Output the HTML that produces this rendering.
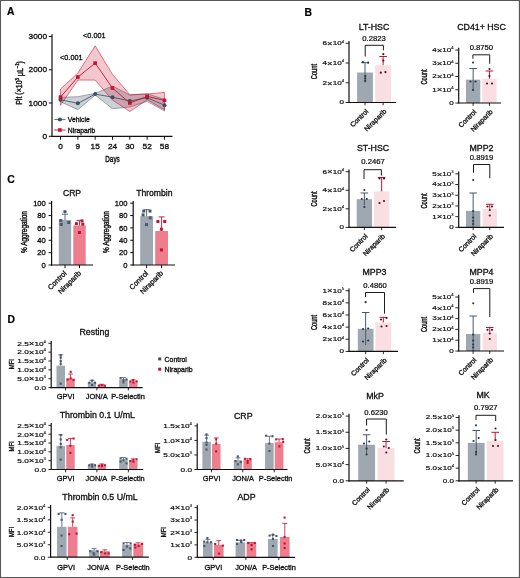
<!DOCTYPE html>
<html lang="en"><head><meta charset="utf-8"><title>Figure</title>
<style>
html,body{margin:0;padding:0;background:#fff;}
body{width:520px;height:578px;overflow:hidden;position:relative;font-family:'Liberation Sans', Arial, Helvetica, sans-serif;}
#fig{position:absolute;left:0;top:0;width:520px;height:578px;}
svg{position:absolute;left:0;top:0;display:block;will-change:transform;}
svg text{font-family:'Liberation Sans', Arial, Helvetica, sans-serif;}
</style></head><body>
<div id="fig"></div>
<svg width="520" height="578" viewBox="0 0 520 578">
<path d="M0 0H520V578H0Z M1.05 0.95V576.9H518.85V0.95Z" fill="#585858" fill-rule="evenodd"/>
<polygon points="60.50,97.38 77.83,96.71 95.16,93.39 112.49,86.07 129.82,95.05 147.15,93.72 164.48,99.37 164.48,111.02 147.15,101.37 129.82,107.03 112.49,108.69 95.16,95.05 77.83,109.69 60.50,101.70" fill="rgba(96,112,128,0.32)" stroke="rgba(80,96,112,0.75)" stroke-width="0.7" stroke-linejoin="round"/>
<polygon points="60.50,89.06 77.83,73.09 95.16,45.81 112.49,74.42 129.82,94.72 147.15,94.05 164.48,92.39 164.48,109.69 147.15,99.71 129.82,111.52 112.49,100.04 95.16,80.08 77.83,80.08 60.50,105.36" fill="rgba(200,20,50,0.24)" stroke="rgba(200,20,50,0.8)" stroke-width="0.7" stroke-linejoin="round"/>
<polyline points="60.50,99.71 77.83,103.37 95.16,94.05 112.49,97.21 129.82,101.04 147.15,97.71 164.48,105.20" fill="none" stroke="#46566a" stroke-width="0.9"/>
<polyline points="60.50,97.05 77.83,77.09 95.16,63.11 112.49,88.06 129.82,103.03 147.15,96.38 164.48,100.37" fill="none" stroke="#c4122f" stroke-width="0.9"/>
<circle cx="60.50" cy="99.71" r="2.0" fill="#3f4d60"/>
<circle cx="77.83" cy="103.37" r="2.0" fill="#3f4d60"/>
<circle cx="95.16" cy="94.05" r="2.0" fill="#3f4d60"/>
<circle cx="112.49" cy="97.21" r="2.0" fill="#3f4d60"/>
<circle cx="129.82" cy="101.04" r="2.0" fill="#3f4d60"/>
<circle cx="147.15" cy="97.71" r="2.0" fill="#3f4d60"/>
<circle cx="164.48" cy="105.20" r="2.0" fill="#3f4d60"/>
<rect x="58.70" y="95.25" width="3.60" height="3.60" fill="#c4122f"/>
<rect x="76.03" y="75.29" width="3.60" height="3.60" fill="#c4122f"/>
<rect x="93.36" y="61.31" width="3.60" height="3.60" fill="#c4122f"/>
<rect x="110.69" y="86.26" width="3.60" height="3.60" fill="#c4122f"/>
<rect x="128.02" y="101.23" width="3.60" height="3.60" fill="#c4122f"/>
<rect x="145.35" y="94.58" width="3.60" height="3.60" fill="#c4122f"/>
<rect x="162.68" y="98.57" width="3.60" height="3.60" fill="#c4122f"/>
<line x1="52.00" y1="34.20" x2="52.00" y2="136.90" stroke="#111" stroke-width="1.2" stroke-linecap="butt"/>
<line x1="51.40" y1="136.30" x2="172.50" y2="136.30" stroke="#111" stroke-width="1.2" stroke-linecap="butt"/>
<line x1="48.80" y1="136.30" x2="52.00" y2="136.30" stroke="#111" stroke-width="1.0" stroke-linecap="butt"/>
<text transform="translate(47.00,136.50) scale(1.05,1)" font-size="7.9" text-anchor="end" dominant-baseline="central" font-weight="normal" fill="#111" stroke="#111" stroke-width="0.32">0</text>
<line x1="48.80" y1="103.03" x2="52.00" y2="103.03" stroke="#111" stroke-width="1.0" stroke-linecap="butt"/>
<text transform="translate(47.00,103.23) scale(1.05,1)" font-size="7.9" text-anchor="end" dominant-baseline="central" font-weight="normal" fill="#111" stroke="#111" stroke-width="0.32">1000</text>
<line x1="48.80" y1="69.77" x2="52.00" y2="69.77" stroke="#111" stroke-width="1.0" stroke-linecap="butt"/>
<text transform="translate(47.00,69.97) scale(1.05,1)" font-size="7.9" text-anchor="end" dominant-baseline="central" font-weight="normal" fill="#111" stroke="#111" stroke-width="0.32">2000</text>
<line x1="48.80" y1="36.50" x2="52.00" y2="36.50" stroke="#111" stroke-width="1.0" stroke-linecap="butt"/>
<text transform="translate(47.00,36.70) scale(1.05,1)" font-size="7.9" text-anchor="end" dominant-baseline="central" font-weight="normal" fill="#111" stroke="#111" stroke-width="0.32">3000</text>
<line x1="60.50" y1="136.30" x2="60.50" y2="139.70" stroke="#111" stroke-width="1.0" stroke-linecap="butt"/>
<text transform="translate(60.50,146.60) scale(1.05,1)" font-size="7.9" text-anchor="middle" dominant-baseline="central" font-weight="normal" fill="#111" stroke="#111" stroke-width="0.32">0</text>
<line x1="77.83" y1="136.30" x2="77.83" y2="139.70" stroke="#111" stroke-width="1.0" stroke-linecap="butt"/>
<text transform="translate(77.83,146.60) scale(1.05,1)" font-size="7.9" text-anchor="middle" dominant-baseline="central" font-weight="normal" fill="#111" stroke="#111" stroke-width="0.32">9</text>
<line x1="95.16" y1="136.30" x2="95.16" y2="139.70" stroke="#111" stroke-width="1.0" stroke-linecap="butt"/>
<text transform="translate(95.16,146.60) scale(1.05,1)" font-size="7.9" text-anchor="middle" dominant-baseline="central" font-weight="normal" fill="#111" stroke="#111" stroke-width="0.32">15</text>
<line x1="112.49" y1="136.30" x2="112.49" y2="139.70" stroke="#111" stroke-width="1.0" stroke-linecap="butt"/>
<text transform="translate(112.49,146.60) scale(1.05,1)" font-size="7.9" text-anchor="middle" dominant-baseline="central" font-weight="normal" fill="#111" stroke="#111" stroke-width="0.32">24</text>
<line x1="129.82" y1="136.30" x2="129.82" y2="139.70" stroke="#111" stroke-width="1.0" stroke-linecap="butt"/>
<text transform="translate(129.82,146.60) scale(1.05,1)" font-size="7.9" text-anchor="middle" dominant-baseline="central" font-weight="normal" fill="#111" stroke="#111" stroke-width="0.32">30</text>
<line x1="147.15" y1="136.30" x2="147.15" y2="139.70" stroke="#111" stroke-width="1.0" stroke-linecap="butt"/>
<text transform="translate(147.15,146.60) scale(1.05,1)" font-size="7.9" text-anchor="middle" dominant-baseline="central" font-weight="normal" fill="#111" stroke="#111" stroke-width="0.32">52</text>
<line x1="164.48" y1="136.30" x2="164.48" y2="139.70" stroke="#111" stroke-width="1.0" stroke-linecap="butt"/>
<text transform="translate(164.48,146.60) scale(1.05,1)" font-size="7.9" text-anchor="middle" dominant-baseline="central" font-weight="normal" fill="#111" stroke="#111" stroke-width="0.32">58</text>
<text transform="translate(112.50,159.30) scale(0.74,1)" font-size="8.6" text-anchor="middle" dominant-baseline="central" font-weight="normal" fill="#111" stroke="#111" stroke-width="0.42">Days</text>
<text transform="translate(19.60,83.00) rotate(-90) scale(0.8,1)" font-size="8.8" text-anchor="middle" dominant-baseline="central" font-weight="normal" fill="#111" stroke="#111" stroke-width="0.42">Plt (×10<tspan font-size="60%" dy="-0.45em">3</tspan><tspan dy="0.27em"> μL</tspan><tspan font-size="60%" dy="-0.45em">–1</tspan><tspan dy="0.27em">)</tspan></text>
<text transform="translate(71.30,57.20)" font-size="7.3" text-anchor="middle" dominant-baseline="central" font-weight="normal" fill="#111" stroke="#111" stroke-width="0.32">&lt;0.001</text>
<text transform="translate(94.30,35.20)" font-size="7.3" text-anchor="middle" dominant-baseline="central" font-weight="normal" fill="#111" stroke="#111" stroke-width="0.32">&lt;0.001</text>
<line x1="54.30" y1="119.40" x2="65.50" y2="119.40" stroke="#46566a" stroke-width="0.9" stroke-linecap="butt"/>
<circle cx="59.90" cy="119.40" r="2.0" fill="#3f4d60"/>
<text transform="translate(67.80,119.50)" font-size="6.8" text-anchor="start" dominant-baseline="central" font-weight="normal" fill="#111" stroke="#111" stroke-width="0.32">Vehicle</text>
<line x1="54.30" y1="130.00" x2="65.50" y2="130.00" stroke="#c4122f" stroke-width="0.9" stroke-linecap="butt"/>
<rect x="58.10" y="128.20" width="3.60" height="3.60" fill="#c4122f"/>
<text transform="translate(67.80,130.10)" font-size="6.8" text-anchor="start" dominant-baseline="central" font-weight="normal" fill="#111" stroke="#111" stroke-width="0.32">Niraparib</text>
<rect x="58.80" y="220.01" width="12.40" height="44.99" fill="#9fa8b0"/>
<rect x="73.30" y="225.45" width="12.40" height="39.55" fill="#ee7d8d"/>
<line x1="65.00" y1="214.20" x2="65.00" y2="220.01" stroke="#465a6c" stroke-width="0.9" stroke-linecap="butt"/>
<line x1="62.00" y1="214.20" x2="68.00" y2="214.20" stroke="#465a6c" stroke-width="0.9" stroke-linecap="butt"/>
<line x1="79.50" y1="220.50" x2="79.50" y2="225.45" stroke="#c4122f" stroke-width="0.9" stroke-linecap="butt"/>
<line x1="76.50" y1="220.50" x2="82.50" y2="220.50" stroke="#c4122f" stroke-width="0.9" stroke-linecap="butt"/>
<rect x="63.50" y="210.20" width="3.00" height="3.00" fill="#465a6c"/>
<rect x="59.30" y="219.00" width="3.00" height="3.00" fill="#465a6c"/>
<rect x="67.20" y="221.00" width="3.00" height="3.00" fill="#465a6c"/>
<rect x="59.70" y="222.90" width="3.00" height="3.00" fill="#465a6c"/>
<rect x="80.50" y="219.40" width="3.00" height="3.00" fill="#c4122f"/>
<rect x="74.90" y="222.10" width="3.00" height="3.00" fill="#c4122f"/>
<rect x="81.30" y="222.70" width="3.00" height="3.00" fill="#c4122f"/>
<rect x="78.00" y="231.00" width="3.00" height="3.00" fill="#c4122f"/>
<line x1="51.60" y1="200.90" x2="51.60" y2="265.60" stroke="#111" stroke-width="1.2" stroke-linecap="butt"/>
<line x1="51.00" y1="265.00" x2="93.00" y2="265.00" stroke="#111" stroke-width="1.2" stroke-linecap="butt"/>
<line x1="48.60" y1="265.00" x2="51.60" y2="265.00" stroke="#111" stroke-width="1.0" stroke-linecap="butt"/>
<text transform="translate(45.80,265.20)" font-size="7.6" text-anchor="end" dominant-baseline="central" font-weight="normal" fill="#111" stroke="#111" stroke-width="0.32">0</text>
<line x1="48.60" y1="252.64" x2="51.60" y2="252.64" stroke="#111" stroke-width="1.0" stroke-linecap="butt"/>
<text transform="translate(45.80,252.84)" font-size="7.6" text-anchor="end" dominant-baseline="central" font-weight="normal" fill="#111" stroke="#111" stroke-width="0.32">20</text>
<line x1="48.60" y1="240.28" x2="51.60" y2="240.28" stroke="#111" stroke-width="1.0" stroke-linecap="butt"/>
<text transform="translate(45.80,240.48)" font-size="7.6" text-anchor="end" dominant-baseline="central" font-weight="normal" fill="#111" stroke="#111" stroke-width="0.32">40</text>
<line x1="48.60" y1="227.92" x2="51.60" y2="227.92" stroke="#111" stroke-width="1.0" stroke-linecap="butt"/>
<text transform="translate(45.80,228.12)" font-size="7.6" text-anchor="end" dominant-baseline="central" font-weight="normal" fill="#111" stroke="#111" stroke-width="0.32">60</text>
<line x1="48.60" y1="215.56" x2="51.60" y2="215.56" stroke="#111" stroke-width="1.0" stroke-linecap="butt"/>
<text transform="translate(45.80,215.76)" font-size="7.6" text-anchor="end" dominant-baseline="central" font-weight="normal" fill="#111" stroke="#111" stroke-width="0.32">80</text>
<line x1="48.60" y1="203.20" x2="51.60" y2="203.20" stroke="#111" stroke-width="1.0" stroke-linecap="butt"/>
<text transform="translate(45.80,203.40)" font-size="7.6" text-anchor="end" dominant-baseline="central" font-weight="normal" fill="#111" stroke="#111" stroke-width="0.32">100</text>
<line x1="65.00" y1="265.00" x2="65.00" y2="268.20" stroke="#111" stroke-width="1.0" stroke-linecap="butt"/>
<line x1="79.50" y1="265.00" x2="79.50" y2="268.20" stroke="#111" stroke-width="1.0" stroke-linecap="butt"/>
<text transform="translate(72.00,193.00)" font-size="8.6" text-anchor="middle" dominant-baseline="central" font-weight="normal" fill="#111" stroke="#111" stroke-width="0.32">CRP</text>
<text transform="translate(24.50,232.00) rotate(-90) scale(0.75,1)" font-size="8.6" text-anchor="middle" dominant-baseline="central" font-weight="normal" fill="#111" stroke="#111" stroke-width="0.42">% Aggregation</text>
<text transform="translate(65.30,272.00) rotate(-45)" font-size="7.2" text-anchor="end" dominant-baseline="central" font-weight="normal" fill="#111" stroke="#111" stroke-width="0.32">Control</text>
<text transform="translate(79.80,272.00) rotate(-45)" font-size="7.2" text-anchor="end" dominant-baseline="central" font-weight="normal" fill="#111" stroke="#111" stroke-width="0.32">Niraparib</text>
<rect x="140.20" y="216.18" width="12.80" height="48.82" fill="#9fa8b0"/>
<rect x="155.20" y="231.01" width="12.80" height="33.99" fill="#ee7d8d"/>
<line x1="146.60" y1="209.70" x2="146.60" y2="216.18" stroke="#465a6c" stroke-width="0.9" stroke-linecap="butt"/>
<line x1="143.60" y1="209.70" x2="149.60" y2="209.70" stroke="#465a6c" stroke-width="0.9" stroke-linecap="butt"/>
<line x1="161.60" y1="216.90" x2="161.60" y2="231.01" stroke="#c4122f" stroke-width="0.9" stroke-linecap="butt"/>
<line x1="158.60" y1="216.90" x2="164.60" y2="216.90" stroke="#c4122f" stroke-width="0.9" stroke-linecap="butt"/>
<rect x="142.30" y="209.60" width="3.00" height="3.00" fill="#465a6c"/>
<rect x="148.50" y="209.60" width="3.00" height="3.00" fill="#465a6c"/>
<rect x="148.70" y="216.30" width="3.00" height="3.00" fill="#465a6c"/>
<rect x="141.60" y="213.40" width="3.00" height="3.00" fill="#465a6c"/>
<rect x="145.00" y="223.10" width="3.00" height="3.00" fill="#465a6c"/>
<rect x="156.40" y="220.00" width="3.00" height="3.00" fill="#c4122f"/>
<rect x="163.20" y="220.00" width="3.00" height="3.00" fill="#c4122f"/>
<rect x="159.90" y="227.70" width="3.00" height="3.00" fill="#c4122f"/>
<rect x="159.90" y="248.40" width="3.00" height="3.00" fill="#c4122f"/>
<line x1="133.20" y1="200.90" x2="133.20" y2="265.60" stroke="#111" stroke-width="1.2" stroke-linecap="butt"/>
<line x1="132.60" y1="265.00" x2="175.00" y2="265.00" stroke="#111" stroke-width="1.2" stroke-linecap="butt"/>
<line x1="130.20" y1="265.00" x2="133.20" y2="265.00" stroke="#111" stroke-width="1.0" stroke-linecap="butt"/>
<text transform="translate(127.40,265.20)" font-size="7.6" text-anchor="end" dominant-baseline="central" font-weight="normal" fill="#111" stroke="#111" stroke-width="0.32">0</text>
<line x1="130.20" y1="252.64" x2="133.20" y2="252.64" stroke="#111" stroke-width="1.0" stroke-linecap="butt"/>
<text transform="translate(127.40,252.84)" font-size="7.6" text-anchor="end" dominant-baseline="central" font-weight="normal" fill="#111" stroke="#111" stroke-width="0.32">20</text>
<line x1="130.20" y1="240.28" x2="133.20" y2="240.28" stroke="#111" stroke-width="1.0" stroke-linecap="butt"/>
<text transform="translate(127.40,240.48)" font-size="7.6" text-anchor="end" dominant-baseline="central" font-weight="normal" fill="#111" stroke="#111" stroke-width="0.32">40</text>
<line x1="130.20" y1="227.92" x2="133.20" y2="227.92" stroke="#111" stroke-width="1.0" stroke-linecap="butt"/>
<text transform="translate(127.40,228.12)" font-size="7.6" text-anchor="end" dominant-baseline="central" font-weight="normal" fill="#111" stroke="#111" stroke-width="0.32">60</text>
<line x1="130.20" y1="215.56" x2="133.20" y2="215.56" stroke="#111" stroke-width="1.0" stroke-linecap="butt"/>
<text transform="translate(127.40,215.76)" font-size="7.6" text-anchor="end" dominant-baseline="central" font-weight="normal" fill="#111" stroke="#111" stroke-width="0.32">80</text>
<line x1="130.20" y1="203.20" x2="133.20" y2="203.20" stroke="#111" stroke-width="1.0" stroke-linecap="butt"/>
<text transform="translate(127.40,203.40)" font-size="7.6" text-anchor="end" dominant-baseline="central" font-weight="normal" fill="#111" stroke="#111" stroke-width="0.32">100</text>
<line x1="146.60" y1="265.00" x2="146.60" y2="268.20" stroke="#111" stroke-width="1.0" stroke-linecap="butt"/>
<line x1="161.60" y1="265.00" x2="161.60" y2="268.20" stroke="#111" stroke-width="1.0" stroke-linecap="butt"/>
<text transform="translate(154.30,193.00)" font-size="8.6" text-anchor="middle" dominant-baseline="central" font-weight="normal" fill="#111" stroke="#111" stroke-width="0.32">Thrombin</text>
<text transform="translate(106.30,232.00) rotate(-90) scale(0.75,1)" font-size="8.6" text-anchor="middle" dominant-baseline="central" font-weight="normal" fill="#111" stroke="#111" stroke-width="0.42">% Aggregation</text>
<text transform="translate(146.90,272.00) rotate(-45)" font-size="7.2" text-anchor="end" dominant-baseline="central" font-weight="normal" fill="#111" stroke="#111" stroke-width="0.32">Control</text>
<text transform="translate(161.90,272.00) rotate(-45)" font-size="7.2" text-anchor="end" dominant-baseline="central" font-weight="normal" fill="#111" stroke="#111" stroke-width="0.32">Niraparib</text>
<rect x="357.10" y="72.51" width="15.80" height="29.99" fill="#9fa8b0"/>
<rect x="375.20" y="65.20" width="15.80" height="37.30" fill="#f9dfe2"/>
<line x1="365.00" y1="62.70" x2="365.00" y2="82.50" stroke="#465a6c" stroke-width="1.0" stroke-linecap="butt"/>
<line x1="361.20" y1="62.70" x2="368.80" y2="62.70" stroke="#465a6c" stroke-width="1.0" stroke-linecap="butt"/>
<line x1="383.10" y1="56.50" x2="383.10" y2="65.20" stroke="#c4122f" stroke-width="1.0" stroke-linecap="butt"/>
<line x1="379.30" y1="56.50" x2="386.90" y2="56.50" stroke="#c4122f" stroke-width="1.0" stroke-linecap="butt"/>
<circle cx="362.90" cy="62.10" r="1.1" fill="#2a3848"/>
<circle cx="368.20" cy="62.70" r="1.1" fill="#2a3848"/>
<circle cx="365.30" cy="76.20" r="1.1" fill="#2a3848"/>
<circle cx="365.30" cy="78.50" r="1.1" fill="#2a3848"/>
<circle cx="365.30" cy="80.80" r="1.1" fill="#2a3848"/>
<circle cx="383.30" cy="54.20" r="1.1" fill="#5e0f1f"/>
<circle cx="383.30" cy="60.60" r="1.1" fill="#5e0f1f"/>
<circle cx="380.80" cy="72.70" r="1.1" fill="#5e0f1f"/>
<circle cx="385.40" cy="72.10" r="1.1" fill="#5e0f1f"/>
<line x1="349.00" y1="41.00" x2="349.00" y2="103.10" stroke="#111" stroke-width="1.2" stroke-linecap="butt"/>
<line x1="348.40" y1="102.50" x2="396.00" y2="102.50" stroke="#111" stroke-width="1.2" stroke-linecap="butt"/>
<line x1="345.60" y1="102.50" x2="349.00" y2="102.50" stroke="#111" stroke-width="0.9" stroke-linecap="butt"/>
<text transform="translate(344.00,102.70) scale(1.33,1)" font-size="6.1" text-anchor="end" dominant-baseline="central" font-weight="normal" fill="#111" stroke="#111" stroke-width="0.2">0</text>
<line x1="345.60" y1="82.77" x2="349.00" y2="82.77" stroke="#111" stroke-width="0.9" stroke-linecap="butt"/>
<text transform="translate(344.00,82.97) scale(1.33,1)" font-size="6.1" text-anchor="end" dominant-baseline="central" font-weight="normal" fill="#111" stroke="#111" stroke-width="0.2">2<tspan font-size="118%">×</tspan>10<tspan font-size="52%" dy="-0.55em" stroke-width="0.1">4</tspan></text>
<line x1="345.60" y1="63.03" x2="349.00" y2="63.03" stroke="#111" stroke-width="0.9" stroke-linecap="butt"/>
<text transform="translate(344.00,63.23) scale(1.33,1)" font-size="6.1" text-anchor="end" dominant-baseline="central" font-weight="normal" fill="#111" stroke="#111" stroke-width="0.2">4<tspan font-size="118%">×</tspan>10<tspan font-size="52%" dy="-0.55em" stroke-width="0.1">4</tspan></text>
<line x1="345.60" y1="43.30" x2="349.00" y2="43.30" stroke="#111" stroke-width="0.9" stroke-linecap="butt"/>
<text transform="translate(344.00,43.50) scale(1.33,1)" font-size="6.1" text-anchor="end" dominant-baseline="central" font-weight="normal" fill="#111" stroke="#111" stroke-width="0.2">6<tspan font-size="118%">×</tspan>10<tspan font-size="52%" dy="-0.55em" stroke-width="0.1">4</tspan></text>
<line x1="365.00" y1="102.50" x2="365.00" y2="105.30" stroke="#111" stroke-width="0.9" stroke-linecap="butt"/>
<line x1="383.10" y1="102.50" x2="383.10" y2="105.30" stroke="#111" stroke-width="0.9" stroke-linecap="butt"/>
<text transform="translate(374.00,27.40)" font-size="8.8" text-anchor="middle" dominant-baseline="central" font-weight="normal" fill="#111" stroke="#111" stroke-width="0.32">LT-HSC</text>
<text transform="translate(374.00,38.80) scale(1.18,1)" font-size="6.5" text-anchor="middle" dominant-baseline="central" font-weight="normal" fill="#111" stroke="#111" stroke-width="0.22">0.2823</text>
<polyline points="365.20,56.50 365.20,45.30 383.40,45.30 383.40,50.40" fill="none" stroke="#1c1c1c" stroke-width="1.0"/>
<text transform="translate(314.40,71.60) rotate(-90) scale(0.68,1)" font-size="8.4" text-anchor="middle" dominant-baseline="central" font-weight="normal" fill="#111" stroke="#111" stroke-width="0.42">Count</text>
<text transform="translate(367.00,110.10) rotate(-45)" font-size="6.9" text-anchor="end" dominant-baseline="central" font-weight="normal" fill="#111" stroke="#111" stroke-width="0.32">Control</text>
<text transform="translate(385.10,110.10) rotate(-45)" font-size="6.9" text-anchor="end" dominant-baseline="central" font-weight="normal" fill="#111" stroke="#111" stroke-width="0.32">Niraparib</text>
<rect x="466.00" y="79.68" width="14.30" height="23.32" fill="#9fa8b0"/>
<rect x="482.30" y="78.75" width="14.30" height="24.25" fill="#f9dfe2"/>
<line x1="473.15" y1="68.50" x2="473.15" y2="91.00" stroke="#465a6c" stroke-width="1.0" stroke-linecap="butt"/>
<line x1="469.35" y1="68.50" x2="476.95" y2="68.50" stroke="#465a6c" stroke-width="1.0" stroke-linecap="butt"/>
<line x1="489.45" y1="71.00" x2="489.45" y2="78.75" stroke="#c4122f" stroke-width="1.0" stroke-linecap="butt"/>
<line x1="485.65" y1="71.00" x2="493.25" y2="71.00" stroke="#c4122f" stroke-width="1.0" stroke-linecap="butt"/>
<circle cx="473.00" cy="62.50" r="1.1" fill="#2a3848"/>
<circle cx="470.50" cy="81.50" r="1.1" fill="#2a3848"/>
<circle cx="475.50" cy="81.50" r="1.1" fill="#2a3848"/>
<circle cx="473.00" cy="90.00" r="1.1" fill="#2a3848"/>
<circle cx="489.50" cy="69.00" r="1.1" fill="#5e0f1f"/>
<circle cx="489.50" cy="76.00" r="1.1" fill="#5e0f1f"/>
<circle cx="487.00" cy="83.50" r="1.1" fill="#5e0f1f"/>
<circle cx="492.00" cy="83.50" r="1.1" fill="#5e0f1f"/>
<line x1="458.70" y1="47.70" x2="458.70" y2="103.60" stroke="#111" stroke-width="1.2" stroke-linecap="butt"/>
<line x1="458.10" y1="103.00" x2="501.00" y2="103.00" stroke="#111" stroke-width="1.2" stroke-linecap="butt"/>
<line x1="455.30" y1="103.00" x2="458.70" y2="103.00" stroke="#111" stroke-width="0.9" stroke-linecap="butt"/>
<text transform="translate(453.70,103.20) scale(1.33,1)" font-size="6.1" text-anchor="end" dominant-baseline="central" font-weight="normal" fill="#111" stroke="#111" stroke-width="0.2">0</text>
<line x1="455.30" y1="89.75" x2="458.70" y2="89.75" stroke="#111" stroke-width="0.9" stroke-linecap="butt"/>
<text transform="translate(453.70,89.95) scale(1.33,1)" font-size="6.1" text-anchor="end" dominant-baseline="central" font-weight="normal" fill="#111" stroke="#111" stroke-width="0.2">1<tspan font-size="118%">×</tspan>10<tspan font-size="52%" dy="-0.55em" stroke-width="0.1">4</tspan></text>
<line x1="455.30" y1="76.50" x2="458.70" y2="76.50" stroke="#111" stroke-width="0.9" stroke-linecap="butt"/>
<text transform="translate(453.70,76.70) scale(1.33,1)" font-size="6.1" text-anchor="end" dominant-baseline="central" font-weight="normal" fill="#111" stroke="#111" stroke-width="0.2">2<tspan font-size="118%">×</tspan>10<tspan font-size="52%" dy="-0.55em" stroke-width="0.1">4</tspan></text>
<line x1="455.30" y1="63.25" x2="458.70" y2="63.25" stroke="#111" stroke-width="0.9" stroke-linecap="butt"/>
<text transform="translate(453.70,63.45) scale(1.33,1)" font-size="6.1" text-anchor="end" dominant-baseline="central" font-weight="normal" fill="#111" stroke="#111" stroke-width="0.2">3<tspan font-size="118%">×</tspan>10<tspan font-size="52%" dy="-0.55em" stroke-width="0.1">4</tspan></text>
<line x1="455.30" y1="50.00" x2="458.70" y2="50.00" stroke="#111" stroke-width="0.9" stroke-linecap="butt"/>
<text transform="translate(453.70,50.20) scale(1.33,1)" font-size="6.1" text-anchor="end" dominant-baseline="central" font-weight="normal" fill="#111" stroke="#111" stroke-width="0.2">4<tspan font-size="118%">×</tspan>10<tspan font-size="52%" dy="-0.55em" stroke-width="0.1">4</tspan></text>
<line x1="473.15" y1="103.00" x2="473.15" y2="105.80" stroke="#111" stroke-width="0.9" stroke-linecap="butt"/>
<line x1="489.45" y1="103.00" x2="489.45" y2="105.80" stroke="#111" stroke-width="0.9" stroke-linecap="butt"/>
<text transform="translate(481.50,26.80)" font-size="8.8" text-anchor="middle" dominant-baseline="central" font-weight="normal" fill="#111" stroke="#111" stroke-width="0.32">CD41+ HSC</text>
<text transform="translate(481.40,48.50) scale(1.18,1)" font-size="6.5" text-anchor="middle" dominant-baseline="central" font-weight="normal" fill="#111" stroke="#111" stroke-width="0.22">0.8750</text>
<polyline points="472.90,58.80 472.90,54.80 489.70,54.80 489.70,63.80" fill="none" stroke="#1c1c1c" stroke-width="1.0"/>
<text transform="translate(424.40,77.00) rotate(-90) scale(0.68,1)" font-size="8.4" text-anchor="middle" dominant-baseline="central" font-weight="normal" fill="#111" stroke="#111" stroke-width="0.42">Count</text>
<text transform="translate(475.15,110.60) rotate(-45)" font-size="6.9" text-anchor="end" dominant-baseline="central" font-weight="normal" fill="#111" stroke="#111" stroke-width="0.32">Control</text>
<text transform="translate(491.45,110.60) rotate(-45)" font-size="6.9" text-anchor="end" dominant-baseline="central" font-weight="normal" fill="#111" stroke="#111" stroke-width="0.32">Niraparib</text>
<rect x="356.70" y="199.18" width="15.30" height="28.22" fill="#9fa8b0"/>
<rect x="374.00" y="191.47" width="15.30" height="35.93" fill="#f9dfe2"/>
<line x1="364.35" y1="193.00" x2="364.35" y2="205.50" stroke="#465a6c" stroke-width="1.0" stroke-linecap="butt"/>
<line x1="360.55" y1="193.00" x2="368.15" y2="193.00" stroke="#465a6c" stroke-width="1.0" stroke-linecap="butt"/>
<line x1="381.65" y1="177.50" x2="381.65" y2="191.47" stroke="#c4122f" stroke-width="1.0" stroke-linecap="butt"/>
<line x1="377.85" y1="177.50" x2="385.45" y2="177.50" stroke="#c4122f" stroke-width="1.0" stroke-linecap="butt"/>
<circle cx="364.30" cy="190.00" r="1.1" fill="#2a3848"/>
<circle cx="361.80" cy="199.00" r="1.1" fill="#2a3848"/>
<circle cx="366.80" cy="199.00" r="1.1" fill="#2a3848"/>
<circle cx="364.30" cy="207.00" r="1.1" fill="#2a3848"/>
<circle cx="379.50" cy="178.50" r="1.1" fill="#5e0f1f"/>
<circle cx="384.00" cy="178.50" r="1.1" fill="#5e0f1f"/>
<circle cx="379.50" cy="203.00" r="1.1" fill="#5e0f1f"/>
<circle cx="384.00" cy="201.00" r="1.1" fill="#5e0f1f"/>
<line x1="349.00" y1="169.40" x2="349.00" y2="228.00" stroke="#111" stroke-width="1.2" stroke-linecap="butt"/>
<line x1="348.40" y1="227.40" x2="396.00" y2="227.40" stroke="#111" stroke-width="1.2" stroke-linecap="butt"/>
<line x1="345.60" y1="227.40" x2="349.00" y2="227.40" stroke="#111" stroke-width="0.9" stroke-linecap="butt"/>
<text transform="translate(344.00,227.60) scale(1.33,1)" font-size="6.1" text-anchor="end" dominant-baseline="central" font-weight="normal" fill="#111" stroke="#111" stroke-width="0.2">0</text>
<line x1="345.60" y1="208.83" x2="349.00" y2="208.83" stroke="#111" stroke-width="0.9" stroke-linecap="butt"/>
<text transform="translate(344.00,209.03) scale(1.33,1)" font-size="6.1" text-anchor="end" dominant-baseline="central" font-weight="normal" fill="#111" stroke="#111" stroke-width="0.2">2<tspan font-size="118%">×</tspan>10<tspan font-size="52%" dy="-0.55em" stroke-width="0.1">4</tspan></text>
<line x1="345.60" y1="190.27" x2="349.00" y2="190.27" stroke="#111" stroke-width="0.9" stroke-linecap="butt"/>
<text transform="translate(344.00,190.47) scale(1.33,1)" font-size="6.1" text-anchor="end" dominant-baseline="central" font-weight="normal" fill="#111" stroke="#111" stroke-width="0.2">4<tspan font-size="118%">×</tspan>10<tspan font-size="52%" dy="-0.55em" stroke-width="0.1">4</tspan></text>
<line x1="345.60" y1="171.70" x2="349.00" y2="171.70" stroke="#111" stroke-width="0.9" stroke-linecap="butt"/>
<text transform="translate(344.00,171.90) scale(1.33,1)" font-size="6.1" text-anchor="end" dominant-baseline="central" font-weight="normal" fill="#111" stroke="#111" stroke-width="0.2">6<tspan font-size="118%">×</tspan>10<tspan font-size="52%" dy="-0.55em" stroke-width="0.1">4</tspan></text>
<line x1="364.35" y1="227.40" x2="364.35" y2="230.20" stroke="#111" stroke-width="0.9" stroke-linecap="butt"/>
<line x1="381.65" y1="227.40" x2="381.65" y2="230.20" stroke="#111" stroke-width="0.9" stroke-linecap="butt"/>
<text transform="translate(373.00,147.80)" font-size="8.8" text-anchor="middle" dominant-baseline="central" font-weight="normal" fill="#111" stroke="#111" stroke-width="0.32">ST-HSC</text>
<text transform="translate(373.00,162.20) scale(1.18,1)" font-size="6.5" text-anchor="middle" dominant-baseline="central" font-weight="normal" fill="#111" stroke="#111" stroke-width="0.22">0.2467</text>
<polyline points="364.00,179.00 364.00,169.70 381.40,169.70 381.40,175.60" fill="none" stroke="#1c1c1c" stroke-width="1.0"/>
<text transform="translate(314.40,199.00) rotate(-90) scale(0.68,1)" font-size="8.4" text-anchor="middle" dominant-baseline="central" font-weight="normal" fill="#111" stroke="#111" stroke-width="0.42">Count</text>
<text transform="translate(366.35,235.00) rotate(-45)" font-size="6.9" text-anchor="end" dominant-baseline="central" font-weight="normal" fill="#111" stroke="#111" stroke-width="0.32">Control</text>
<text transform="translate(383.65,235.00) rotate(-45)" font-size="6.9" text-anchor="end" dominant-baseline="central" font-weight="normal" fill="#111" stroke="#111" stroke-width="0.32">Niraparib</text>
<rect x="466.00" y="210.89" width="14.30" height="16.51" fill="#9fa8b0"/>
<rect x="482.60" y="208.75" width="14.30" height="18.65" fill="#f9dfe2"/>
<line x1="473.15" y1="193.00" x2="473.15" y2="227.00" stroke="#465a6c" stroke-width="1.0" stroke-linecap="butt"/>
<line x1="469.35" y1="193.00" x2="476.95" y2="193.00" stroke="#465a6c" stroke-width="1.0" stroke-linecap="butt"/>
<line x1="489.75" y1="204.30" x2="489.75" y2="208.75" stroke="#c4122f" stroke-width="1.0" stroke-linecap="butt"/>
<line x1="485.95" y1="204.30" x2="493.55" y2="204.30" stroke="#c4122f" stroke-width="1.0" stroke-linecap="butt"/>
<circle cx="473.20" cy="180.00" r="1.1" fill="#2a3848"/>
<circle cx="473.20" cy="211.00" r="1.1" fill="#2a3848"/>
<circle cx="473.20" cy="217.50" r="1.1" fill="#2a3848"/>
<circle cx="473.20" cy="221.00" r="1.1" fill="#2a3848"/>
<circle cx="473.20" cy="224.00" r="1.1" fill="#2a3848"/>
<circle cx="487.50" cy="206.50" r="1.1" fill="#5e0f1f"/>
<circle cx="492.00" cy="206.50" r="1.1" fill="#5e0f1f"/>
<circle cx="489.80" cy="210.00" r="1.1" fill="#5e0f1f"/>
<circle cx="489.80" cy="215.50" r="1.1" fill="#5e0f1f"/>
<line x1="458.70" y1="171.50" x2="458.70" y2="228.00" stroke="#111" stroke-width="1.2" stroke-linecap="butt"/>
<line x1="458.10" y1="227.40" x2="504.00" y2="227.40" stroke="#111" stroke-width="1.2" stroke-linecap="butt"/>
<line x1="455.30" y1="227.40" x2="458.70" y2="227.40" stroke="#111" stroke-width="0.9" stroke-linecap="butt"/>
<text transform="translate(453.70,227.60) scale(1.33,1)" font-size="6.1" text-anchor="end" dominant-baseline="central" font-weight="normal" fill="#111" stroke="#111" stroke-width="0.2">0</text>
<line x1="455.30" y1="216.68" x2="458.70" y2="216.68" stroke="#111" stroke-width="0.9" stroke-linecap="butt"/>
<text transform="translate(453.70,216.88) scale(1.33,1)" font-size="6.1" text-anchor="end" dominant-baseline="central" font-weight="normal" fill="#111" stroke="#111" stroke-width="0.2">1<tspan font-size="118%">×</tspan>10<tspan font-size="52%" dy="-0.55em" stroke-width="0.1">3</tspan></text>
<line x1="455.30" y1="205.96" x2="458.70" y2="205.96" stroke="#111" stroke-width="0.9" stroke-linecap="butt"/>
<text transform="translate(453.70,206.16) scale(1.33,1)" font-size="6.1" text-anchor="end" dominant-baseline="central" font-weight="normal" fill="#111" stroke="#111" stroke-width="0.2">2<tspan font-size="118%">×</tspan>10<tspan font-size="52%" dy="-0.55em" stroke-width="0.1">3</tspan></text>
<line x1="455.30" y1="195.24" x2="458.70" y2="195.24" stroke="#111" stroke-width="0.9" stroke-linecap="butt"/>
<text transform="translate(453.70,195.44) scale(1.33,1)" font-size="6.1" text-anchor="end" dominant-baseline="central" font-weight="normal" fill="#111" stroke="#111" stroke-width="0.2">3<tspan font-size="118%">×</tspan>10<tspan font-size="52%" dy="-0.55em" stroke-width="0.1">3</tspan></text>
<line x1="455.30" y1="184.52" x2="458.70" y2="184.52" stroke="#111" stroke-width="0.9" stroke-linecap="butt"/>
<text transform="translate(453.70,184.72) scale(1.33,1)" font-size="6.1" text-anchor="end" dominant-baseline="central" font-weight="normal" fill="#111" stroke="#111" stroke-width="0.2">4<tspan font-size="118%">×</tspan>10<tspan font-size="52%" dy="-0.55em" stroke-width="0.1">3</tspan></text>
<line x1="455.30" y1="173.80" x2="458.70" y2="173.80" stroke="#111" stroke-width="0.9" stroke-linecap="butt"/>
<text transform="translate(453.70,174.00) scale(1.33,1)" font-size="6.1" text-anchor="end" dominant-baseline="central" font-weight="normal" fill="#111" stroke="#111" stroke-width="0.2">5<tspan font-size="118%">×</tspan>10<tspan font-size="52%" dy="-0.55em" stroke-width="0.1">3</tspan></text>
<line x1="473.15" y1="227.40" x2="473.15" y2="230.20" stroke="#111" stroke-width="0.9" stroke-linecap="butt"/>
<line x1="489.75" y1="227.40" x2="489.75" y2="230.20" stroke="#111" stroke-width="0.9" stroke-linecap="butt"/>
<text transform="translate(481.50,147.80)" font-size="8.8" text-anchor="middle" dominant-baseline="central" font-weight="normal" fill="#111" stroke="#111" stroke-width="0.32">MPP2</text>
<text transform="translate(481.50,158.60) scale(1.18,1)" font-size="6.5" text-anchor="middle" dominant-baseline="central" font-weight="normal" fill="#111" stroke="#111" stroke-width="0.22">0.8919</text>
<polyline points="473.50,172.80 473.50,164.50 489.80,164.50 489.80,178.20" fill="none" stroke="#1c1c1c" stroke-width="1.0"/>
<text transform="translate(424.40,201.00) rotate(-90) scale(0.68,1)" font-size="8.4" text-anchor="middle" dominant-baseline="central" font-weight="normal" fill="#111" stroke="#111" stroke-width="0.42">Count</text>
<text transform="translate(475.15,235.00) rotate(-45)" font-size="6.9" text-anchor="end" dominant-baseline="central" font-weight="normal" fill="#111" stroke="#111" stroke-width="0.32">Control</text>
<text transform="translate(491.75,235.00) rotate(-45)" font-size="6.9" text-anchor="end" dominant-baseline="central" font-weight="normal" fill="#111" stroke="#111" stroke-width="0.32">Niraparib</text>
<rect x="357.80" y="328.82" width="15.70" height="22.58" fill="#9fa8b0"/>
<rect x="375.50" y="322.39" width="15.70" height="29.01" fill="#f9dfe2"/>
<line x1="365.65" y1="312.50" x2="365.65" y2="345.00" stroke="#465a6c" stroke-width="1.0" stroke-linecap="butt"/>
<line x1="361.85" y1="312.50" x2="369.45" y2="312.50" stroke="#465a6c" stroke-width="1.0" stroke-linecap="butt"/>
<line x1="383.35" y1="317.30" x2="383.35" y2="322.39" stroke="#c4122f" stroke-width="1.0" stroke-linecap="butt"/>
<line x1="379.55" y1="317.30" x2="387.15" y2="317.30" stroke="#c4122f" stroke-width="1.0" stroke-linecap="butt"/>
<circle cx="365.60" cy="302.20" r="1.1" fill="#2a3848"/>
<circle cx="363.00" cy="329.00" r="1.1" fill="#2a3848"/>
<circle cx="368.20" cy="328.50" r="1.1" fill="#2a3848"/>
<circle cx="363.00" cy="341.50" r="1.1" fill="#2a3848"/>
<circle cx="368.20" cy="340.50" r="1.1" fill="#2a3848"/>
<circle cx="381.00" cy="319.50" r="1.1" fill="#5e0f1f"/>
<circle cx="386.50" cy="318.00" r="1.1" fill="#5e0f1f"/>
<circle cx="381.50" cy="326.50" r="1.1" fill="#5e0f1f"/>
<circle cx="386.50" cy="326.00" r="1.1" fill="#5e0f1f"/>
<line x1="349.00" y1="288.40" x2="349.00" y2="352.00" stroke="#111" stroke-width="1.2" stroke-linecap="butt"/>
<line x1="348.40" y1="351.40" x2="398.00" y2="351.40" stroke="#111" stroke-width="1.2" stroke-linecap="butt"/>
<line x1="345.60" y1="351.40" x2="349.00" y2="351.40" stroke="#111" stroke-width="0.9" stroke-linecap="butt"/>
<text transform="translate(344.00,351.60) scale(1.33,1)" font-size="6.1" text-anchor="end" dominant-baseline="central" font-weight="normal" fill="#111" stroke="#111" stroke-width="0.2">0</text>
<line x1="345.60" y1="339.26" x2="349.00" y2="339.26" stroke="#111" stroke-width="0.9" stroke-linecap="butt"/>
<text transform="translate(344.00,339.46) scale(1.33,1)" font-size="6.1" text-anchor="end" dominant-baseline="central" font-weight="normal" fill="#111" stroke="#111" stroke-width="0.2">2<tspan font-size="118%">×</tspan>10<tspan font-size="52%" dy="-0.55em" stroke-width="0.1">4</tspan></text>
<line x1="345.60" y1="327.12" x2="349.00" y2="327.12" stroke="#111" stroke-width="0.9" stroke-linecap="butt"/>
<text transform="translate(344.00,327.32) scale(1.33,1)" font-size="6.1" text-anchor="end" dominant-baseline="central" font-weight="normal" fill="#111" stroke="#111" stroke-width="0.2">4<tspan font-size="118%">×</tspan>10<tspan font-size="52%" dy="-0.55em" stroke-width="0.1">4</tspan></text>
<line x1="345.60" y1="314.98" x2="349.00" y2="314.98" stroke="#111" stroke-width="0.9" stroke-linecap="butt"/>
<text transform="translate(344.00,315.18) scale(1.33,1)" font-size="6.1" text-anchor="end" dominant-baseline="central" font-weight="normal" fill="#111" stroke="#111" stroke-width="0.2">6<tspan font-size="118%">×</tspan>10<tspan font-size="52%" dy="-0.55em" stroke-width="0.1">4</tspan></text>
<line x1="345.60" y1="302.84" x2="349.00" y2="302.84" stroke="#111" stroke-width="0.9" stroke-linecap="butt"/>
<text transform="translate(344.00,303.04) scale(1.33,1)" font-size="6.1" text-anchor="end" dominant-baseline="central" font-weight="normal" fill="#111" stroke="#111" stroke-width="0.2">8<tspan font-size="118%">×</tspan>10<tspan font-size="52%" dy="-0.55em" stroke-width="0.1">4</tspan></text>
<line x1="345.60" y1="290.70" x2="349.00" y2="290.70" stroke="#111" stroke-width="0.9" stroke-linecap="butt"/>
<text transform="translate(344.00,290.90) scale(1.33,1)" font-size="6.1" text-anchor="end" dominant-baseline="central" font-weight="normal" fill="#111" stroke="#111" stroke-width="0.2">1<tspan font-size="118%">×</tspan>10<tspan font-size="52%" dy="-0.55em" stroke-width="0.1">5</tspan></text>
<line x1="365.65" y1="351.40" x2="365.65" y2="354.20" stroke="#111" stroke-width="0.9" stroke-linecap="butt"/>
<line x1="383.35" y1="351.40" x2="383.35" y2="354.20" stroke="#111" stroke-width="0.9" stroke-linecap="butt"/>
<text transform="translate(374.50,271.60)" font-size="8.8" text-anchor="middle" dominant-baseline="central" font-weight="normal" fill="#111" stroke="#111" stroke-width="0.32">MPP3</text>
<text transform="translate(375.00,285.80) scale(1.18,1)" font-size="6.5" text-anchor="middle" dominant-baseline="central" font-weight="normal" fill="#111" stroke="#111" stroke-width="0.22">0.4860</text>
<polyline points="365.50,297.00 365.50,292.50 384.50,292.50 384.50,313.70" fill="none" stroke="#1c1c1c" stroke-width="1.0"/>
<text transform="translate(314.40,322.50) rotate(-90) scale(0.68,1)" font-size="8.4" text-anchor="middle" dominant-baseline="central" font-weight="normal" fill="#111" stroke="#111" stroke-width="0.42">Count</text>
<text transform="translate(367.65,359.00) rotate(-45)" font-size="6.9" text-anchor="end" dominant-baseline="central" font-weight="normal" fill="#111" stroke="#111" stroke-width="0.32">Control</text>
<text transform="translate(385.35,359.00) rotate(-45)" font-size="6.9" text-anchor="end" dominant-baseline="central" font-weight="normal" fill="#111" stroke="#111" stroke-width="0.32">Niraparib</text>
<rect x="466.00" y="334.04" width="14.30" height="16.96" fill="#9fa8b0"/>
<rect x="482.60" y="332.64" width="14.30" height="18.36" fill="#f9dfe2"/>
<line x1="473.15" y1="316.00" x2="473.15" y2="351.00" stroke="#465a6c" stroke-width="1.0" stroke-linecap="butt"/>
<line x1="469.35" y1="316.00" x2="476.95" y2="316.00" stroke="#465a6c" stroke-width="1.0" stroke-linecap="butt"/>
<line x1="489.75" y1="327.50" x2="489.75" y2="332.64" stroke="#c4122f" stroke-width="1.0" stroke-linecap="butt"/>
<line x1="485.95" y1="327.50" x2="493.55" y2="327.50" stroke="#c4122f" stroke-width="1.0" stroke-linecap="butt"/>
<circle cx="473.20" cy="303.30" r="1.1" fill="#2a3848"/>
<circle cx="473.20" cy="334.50" r="1.1" fill="#2a3848"/>
<circle cx="473.20" cy="340.50" r="1.1" fill="#2a3848"/>
<circle cx="473.20" cy="344.50" r="1.1" fill="#2a3848"/>
<circle cx="473.20" cy="347.50" r="1.1" fill="#2a3848"/>
<circle cx="487.50" cy="329.80" r="1.1" fill="#5e0f1f"/>
<circle cx="492.00" cy="329.80" r="1.1" fill="#5e0f1f"/>
<circle cx="489.80" cy="333.50" r="1.1" fill="#5e0f1f"/>
<circle cx="489.80" cy="339.00" r="1.1" fill="#5e0f1f"/>
<line x1="458.70" y1="294.70" x2="458.70" y2="351.60" stroke="#111" stroke-width="1.2" stroke-linecap="butt"/>
<line x1="458.10" y1="351.00" x2="504.00" y2="351.00" stroke="#111" stroke-width="1.2" stroke-linecap="butt"/>
<line x1="455.30" y1="351.00" x2="458.70" y2="351.00" stroke="#111" stroke-width="0.9" stroke-linecap="butt"/>
<text transform="translate(453.70,351.20) scale(1.33,1)" font-size="6.1" text-anchor="end" dominant-baseline="central" font-weight="normal" fill="#111" stroke="#111" stroke-width="0.2">0</text>
<line x1="455.30" y1="340.20" x2="458.70" y2="340.20" stroke="#111" stroke-width="0.9" stroke-linecap="butt"/>
<text transform="translate(453.70,340.40) scale(1.33,1)" font-size="6.1" text-anchor="end" dominant-baseline="central" font-weight="normal" fill="#111" stroke="#111" stroke-width="0.2">1<tspan font-size="118%">×</tspan>10<tspan font-size="52%" dy="-0.55em" stroke-width="0.1">4</tspan></text>
<line x1="455.30" y1="329.40" x2="458.70" y2="329.40" stroke="#111" stroke-width="0.9" stroke-linecap="butt"/>
<text transform="translate(453.70,329.60) scale(1.33,1)" font-size="6.1" text-anchor="end" dominant-baseline="central" font-weight="normal" fill="#111" stroke="#111" stroke-width="0.2">2<tspan font-size="118%">×</tspan>10<tspan font-size="52%" dy="-0.55em" stroke-width="0.1">4</tspan></text>
<line x1="455.30" y1="318.60" x2="458.70" y2="318.60" stroke="#111" stroke-width="0.9" stroke-linecap="butt"/>
<text transform="translate(453.70,318.80) scale(1.33,1)" font-size="6.1" text-anchor="end" dominant-baseline="central" font-weight="normal" fill="#111" stroke="#111" stroke-width="0.2">3<tspan font-size="118%">×</tspan>10<tspan font-size="52%" dy="-0.55em" stroke-width="0.1">4</tspan></text>
<line x1="455.30" y1="307.80" x2="458.70" y2="307.80" stroke="#111" stroke-width="0.9" stroke-linecap="butt"/>
<text transform="translate(453.70,308.00) scale(1.33,1)" font-size="6.1" text-anchor="end" dominant-baseline="central" font-weight="normal" fill="#111" stroke="#111" stroke-width="0.2">4<tspan font-size="118%">×</tspan>10<tspan font-size="52%" dy="-0.55em" stroke-width="0.1">4</tspan></text>
<line x1="455.30" y1="297.00" x2="458.70" y2="297.00" stroke="#111" stroke-width="0.9" stroke-linecap="butt"/>
<text transform="translate(453.70,297.20) scale(1.33,1)" font-size="6.1" text-anchor="end" dominant-baseline="central" font-weight="normal" fill="#111" stroke="#111" stroke-width="0.2">5<tspan font-size="118%">×</tspan>10<tspan font-size="52%" dy="-0.55em" stroke-width="0.1">4</tspan></text>
<line x1="473.15" y1="351.00" x2="473.15" y2="353.80" stroke="#111" stroke-width="0.9" stroke-linecap="butt"/>
<line x1="489.75" y1="351.00" x2="489.75" y2="353.80" stroke="#111" stroke-width="0.9" stroke-linecap="butt"/>
<text transform="translate(481.50,272.00)" font-size="8.8" text-anchor="middle" dominant-baseline="central" font-weight="normal" fill="#111" stroke="#111" stroke-width="0.32">MPP4</text>
<text transform="translate(481.50,282.20) scale(1.18,1)" font-size="6.5" text-anchor="middle" dominant-baseline="central" font-weight="normal" fill="#111" stroke="#111" stroke-width="0.22">0.8919</text>
<polyline points="473.50,292.80 473.50,288.60 489.80,288.60 489.80,317.00" fill="none" stroke="#1c1c1c" stroke-width="1.0"/>
<text transform="translate(424.40,324.50) rotate(-90) scale(0.68,1)" font-size="8.4" text-anchor="middle" dominant-baseline="central" font-weight="normal" fill="#111" stroke="#111" stroke-width="0.42">Count</text>
<text transform="translate(475.15,358.60) rotate(-45)" font-size="6.9" text-anchor="end" dominant-baseline="central" font-weight="normal" fill="#111" stroke="#111" stroke-width="0.32">Control</text>
<text transform="translate(491.75,358.60) rotate(-45)" font-size="6.9" text-anchor="end" dominant-baseline="central" font-weight="normal" fill="#111" stroke="#111" stroke-width="0.32">Niraparib</text>
<rect x="358.20" y="444.73" width="16.90" height="36.07" fill="#9fa8b0"/>
<rect x="377.60" y="447.90" width="16.90" height="32.90" fill="#f9dfe2"/>
<line x1="366.65" y1="434.80" x2="366.65" y2="454.30" stroke="#465a6c" stroke-width="1.0" stroke-linecap="butt"/>
<line x1="362.85" y1="434.80" x2="370.45" y2="434.80" stroke="#465a6c" stroke-width="1.0" stroke-linecap="butt"/>
<line x1="386.05" y1="441.50" x2="386.05" y2="447.90" stroke="#c4122f" stroke-width="1.0" stroke-linecap="butt"/>
<line x1="382.25" y1="441.50" x2="389.85" y2="441.50" stroke="#c4122f" stroke-width="1.0" stroke-linecap="butt"/>
<circle cx="366.60" cy="430.00" r="1.1" fill="#2a3848"/>
<circle cx="364.00" cy="443.50" r="1.1" fill="#2a3848"/>
<circle cx="369.30" cy="441.50" r="1.1" fill="#2a3848"/>
<circle cx="366.60" cy="448.50" r="1.1" fill="#2a3848"/>
<circle cx="366.60" cy="454.50" r="1.1" fill="#2a3848"/>
<circle cx="386.30" cy="439.50" r="1.1" fill="#5e0f1f"/>
<circle cx="383.80" cy="446.50" r="1.1" fill="#5e0f1f"/>
<circle cx="388.80" cy="448.00" r="1.1" fill="#5e0f1f"/>
<circle cx="386.30" cy="452.50" r="1.1" fill="#5e0f1f"/>
<line x1="349.00" y1="413.80" x2="349.00" y2="481.40" stroke="#111" stroke-width="1.2" stroke-linecap="butt"/>
<line x1="348.40" y1="480.80" x2="403.70" y2="480.80" stroke="#111" stroke-width="1.2" stroke-linecap="butt"/>
<line x1="345.60" y1="480.80" x2="349.00" y2="480.80" stroke="#111" stroke-width="0.9" stroke-linecap="butt"/>
<text transform="translate(344.00,481.00) scale(1.33,1)" font-size="6.1" text-anchor="end" dominant-baseline="central" font-weight="normal" fill="#111" stroke="#111" stroke-width="0.2">0.0</text>
<line x1="345.60" y1="464.62" x2="349.00" y2="464.62" stroke="#111" stroke-width="0.9" stroke-linecap="butt"/>
<text transform="translate(344.00,464.82) scale(1.33,1)" font-size="6.1" text-anchor="end" dominant-baseline="central" font-weight="normal" fill="#111" stroke="#111" stroke-width="0.2">5.0<tspan font-size="118%">×</tspan>10<tspan font-size="52%" dy="-0.55em" stroke-width="0.1">4</tspan></text>
<line x1="345.60" y1="448.45" x2="349.00" y2="448.45" stroke="#111" stroke-width="0.9" stroke-linecap="butt"/>
<text transform="translate(344.00,448.65) scale(1.33,1)" font-size="6.1" text-anchor="end" dominant-baseline="central" font-weight="normal" fill="#111" stroke="#111" stroke-width="0.2">1.0<tspan font-size="118%">×</tspan>10<tspan font-size="52%" dy="-0.55em" stroke-width="0.1">5</tspan></text>
<line x1="345.60" y1="432.28" x2="349.00" y2="432.28" stroke="#111" stroke-width="0.9" stroke-linecap="butt"/>
<text transform="translate(344.00,432.48) scale(1.33,1)" font-size="6.1" text-anchor="end" dominant-baseline="central" font-weight="normal" fill="#111" stroke="#111" stroke-width="0.2">1.5<tspan font-size="118%">×</tspan>10<tspan font-size="52%" dy="-0.55em" stroke-width="0.1">5</tspan></text>
<line x1="345.60" y1="416.10" x2="349.00" y2="416.10" stroke="#111" stroke-width="0.9" stroke-linecap="butt"/>
<text transform="translate(344.00,416.30) scale(1.33,1)" font-size="6.1" text-anchor="end" dominant-baseline="central" font-weight="normal" fill="#111" stroke="#111" stroke-width="0.2">2.0<tspan font-size="118%">×</tspan>10<tspan font-size="52%" dy="-0.55em" stroke-width="0.1">5</tspan></text>
<line x1="366.65" y1="480.80" x2="366.65" y2="483.60" stroke="#111" stroke-width="0.9" stroke-linecap="butt"/>
<line x1="386.05" y1="480.80" x2="386.05" y2="483.60" stroke="#111" stroke-width="0.9" stroke-linecap="butt"/>
<text transform="translate(375.00,395.90)" font-size="8.8" text-anchor="middle" dominant-baseline="central" font-weight="normal" fill="#111" stroke="#111" stroke-width="0.32">MkP</text>
<text transform="translate(376.00,412.80) scale(1.18,1)" font-size="6.5" text-anchor="middle" dominant-baseline="central" font-weight="normal" fill="#111" stroke="#111" stroke-width="0.22">0.6230</text>
<polyline points="366.60,425.50 366.60,419.00 386.30,419.00 386.30,434.60" fill="none" stroke="#1c1c1c" stroke-width="1.0"/>
<text transform="translate(308.00,446.00) rotate(-90) scale(0.68,1)" font-size="8.4" text-anchor="middle" dominant-baseline="central" font-weight="normal" fill="#111" stroke="#111" stroke-width="0.42">Count</text>
<text transform="translate(368.65,488.40) rotate(-45)" font-size="6.9" text-anchor="end" dominant-baseline="central" font-weight="normal" fill="#111" stroke="#111" stroke-width="0.32">Control</text>
<text transform="translate(388.05,488.40) rotate(-45)" font-size="6.9" text-anchor="end" dominant-baseline="central" font-weight="normal" fill="#111" stroke="#111" stroke-width="0.32">Niraparib</text>
<rect x="467.80" y="442.82" width="16.80" height="37.98" fill="#9fa8b0"/>
<rect x="486.80" y="440.79" width="16.80" height="40.01" fill="#f9dfe2"/>
<line x1="476.20" y1="430.50" x2="476.20" y2="455.00" stroke="#465a6c" stroke-width="1.0" stroke-linecap="butt"/>
<line x1="472.40" y1="430.50" x2="480.00" y2="430.50" stroke="#465a6c" stroke-width="1.0" stroke-linecap="butt"/>
<line x1="495.20" y1="432.30" x2="495.20" y2="440.79" stroke="#c4122f" stroke-width="1.0" stroke-linecap="butt"/>
<line x1="491.40" y1="432.30" x2="499.00" y2="432.30" stroke="#c4122f" stroke-width="1.0" stroke-linecap="butt"/>
<circle cx="476.00" cy="425.30" r="1.1" fill="#2a3848"/>
<circle cx="473.50" cy="441.00" r="1.1" fill="#2a3848"/>
<circle cx="478.70" cy="438.00" r="1.1" fill="#2a3848"/>
<circle cx="476.00" cy="452.00" r="1.1" fill="#2a3848"/>
<circle cx="476.00" cy="454.50" r="1.1" fill="#2a3848"/>
<circle cx="495.50" cy="428.50" r="1.1" fill="#5e0f1f"/>
<circle cx="495.50" cy="440.00" r="1.1" fill="#5e0f1f"/>
<circle cx="493.00" cy="446.00" r="1.1" fill="#5e0f1f"/>
<circle cx="498.00" cy="446.00" r="1.1" fill="#5e0f1f"/>
<line x1="459.00" y1="415.20" x2="459.00" y2="481.40" stroke="#111" stroke-width="1.2" stroke-linecap="butt"/>
<line x1="458.40" y1="480.80" x2="513.00" y2="480.80" stroke="#111" stroke-width="1.2" stroke-linecap="butt"/>
<line x1="455.60" y1="480.80" x2="459.00" y2="480.80" stroke="#111" stroke-width="0.9" stroke-linecap="butt"/>
<text transform="translate(454.00,481.00) scale(1.33,1)" font-size="6.1" text-anchor="end" dominant-baseline="central" font-weight="normal" fill="#111" stroke="#111" stroke-width="0.2">0.0</text>
<line x1="455.60" y1="468.14" x2="459.00" y2="468.14" stroke="#111" stroke-width="0.9" stroke-linecap="butt"/>
<text transform="translate(454.00,468.34) scale(1.33,1)" font-size="6.1" text-anchor="end" dominant-baseline="central" font-weight="normal" fill="#111" stroke="#111" stroke-width="0.2">5.0<tspan font-size="118%">×</tspan>10<tspan font-size="52%" dy="-0.55em" stroke-width="0.1">4</tspan></text>
<line x1="455.60" y1="455.48" x2="459.00" y2="455.48" stroke="#111" stroke-width="0.9" stroke-linecap="butt"/>
<text transform="translate(454.00,455.68) scale(1.33,1)" font-size="6.1" text-anchor="end" dominant-baseline="central" font-weight="normal" fill="#111" stroke="#111" stroke-width="0.2">1.0<tspan font-size="118%">×</tspan>10<tspan font-size="52%" dy="-0.55em" stroke-width="0.1">5</tspan></text>
<line x1="455.60" y1="442.82" x2="459.00" y2="442.82" stroke="#111" stroke-width="0.9" stroke-linecap="butt"/>
<text transform="translate(454.00,443.02) scale(1.33,1)" font-size="6.1" text-anchor="end" dominant-baseline="central" font-weight="normal" fill="#111" stroke="#111" stroke-width="0.2">1.5<tspan font-size="118%">×</tspan>10<tspan font-size="52%" dy="-0.55em" stroke-width="0.1">5</tspan></text>
<line x1="455.60" y1="430.16" x2="459.00" y2="430.16" stroke="#111" stroke-width="0.9" stroke-linecap="butt"/>
<text transform="translate(454.00,430.36) scale(1.33,1)" font-size="6.1" text-anchor="end" dominant-baseline="central" font-weight="normal" fill="#111" stroke="#111" stroke-width="0.2">2.0<tspan font-size="118%">×</tspan>10<tspan font-size="52%" dy="-0.55em" stroke-width="0.1">5</tspan></text>
<line x1="455.60" y1="417.50" x2="459.00" y2="417.50" stroke="#111" stroke-width="0.9" stroke-linecap="butt"/>
<text transform="translate(454.00,417.70) scale(1.33,1)" font-size="6.1" text-anchor="end" dominant-baseline="central" font-weight="normal" fill="#111" stroke="#111" stroke-width="0.2">2.5<tspan font-size="118%">×</tspan>10<tspan font-size="52%" dy="-0.55em" stroke-width="0.1">5</tspan></text>
<line x1="476.20" y1="480.80" x2="476.20" y2="483.60" stroke="#111" stroke-width="0.9" stroke-linecap="butt"/>
<line x1="495.20" y1="480.80" x2="495.20" y2="483.60" stroke="#111" stroke-width="0.9" stroke-linecap="butt"/>
<text transform="translate(483.00,395.40)" font-size="8.8" text-anchor="middle" dominant-baseline="central" font-weight="normal" fill="#111" stroke="#111" stroke-width="0.32">MK</text>
<text transform="translate(485.70,408.60) scale(1.18,1)" font-size="6.5" text-anchor="middle" dominant-baseline="central" font-weight="normal" fill="#111" stroke="#111" stroke-width="0.22">0.7927</text>
<polyline points="476.00,420.00 476.00,415.30 495.70,415.30 495.70,421.00" fill="none" stroke="#1c1c1c" stroke-width="1.0"/>
<text transform="translate(418.00,446.00) rotate(-90) scale(0.68,1)" font-size="8.4" text-anchor="middle" dominant-baseline="central" font-weight="normal" fill="#111" stroke="#111" stroke-width="0.42">Count</text>
<text transform="translate(478.20,488.40) rotate(-45)" font-size="6.9" text-anchor="end" dominant-baseline="central" font-weight="normal" fill="#111" stroke="#111" stroke-width="0.32">Control</text>
<text transform="translate(497.20,488.40) rotate(-45)" font-size="6.9" text-anchor="end" dominant-baseline="central" font-weight="normal" fill="#111" stroke="#111" stroke-width="0.32">Niraparib</text>
<rect x="56.50" y="365.70" width="8.50" height="21.90" fill="#9fa8b0"/>
<rect x="66.20" y="378.40" width="8.50" height="9.20" fill="#ee7d8d"/>
<line x1="60.75" y1="354.80" x2="60.75" y2="365.70" stroke="#465a6c" stroke-width="0.8" stroke-linecap="butt"/>
<line x1="58.35" y1="354.80" x2="63.15" y2="354.80" stroke="#465a6c" stroke-width="0.8" stroke-linecap="butt"/>
<line x1="70.45" y1="374.00" x2="70.45" y2="378.40" stroke="#c4122f" stroke-width="0.8" stroke-linecap="butt"/>
<line x1="68.05" y1="374.00" x2="72.85" y2="374.00" stroke="#c4122f" stroke-width="0.8" stroke-linecap="butt"/>
<rect x="59.65" y="354.15" width="2.10" height="2.10" fill="#46586b"/>
<rect x="59.65" y="356.55" width="2.10" height="2.10" fill="#46586b"/>
<rect x="59.65" y="360.05" width="2.10" height="2.10" fill="#46586b"/>
<rect x="59.65" y="362.75" width="2.10" height="2.10" fill="#46586b"/>
<rect x="59.65" y="382.55" width="2.10" height="2.10" fill="#46586b"/>
<rect x="69.65" y="370.75" width="2.10" height="2.10" fill="#c4122f"/>
<rect x="66.55" y="378.45" width="2.10" height="2.10" fill="#c4122f"/>
<rect x="69.65" y="377.35" width="2.10" height="2.10" fill="#c4122f"/>
<rect x="72.55" y="379.05" width="2.10" height="2.10" fill="#c4122f"/>
<line x1="65.60" y1="387.60" x2="65.60" y2="390.40" stroke="#111" stroke-width="0.9" stroke-linecap="butt"/>
<rect x="87.80" y="382.30" width="8.40" height="5.30" fill="#9fa8b0"/>
<rect x="97.60" y="385.10" width="8.40" height="2.50" fill="#ee7d8d"/>
<line x1="92.00" y1="380.30" x2="92.00" y2="382.30" stroke="#465a6c" stroke-width="0.8" stroke-linecap="butt"/>
<line x1="89.60" y1="380.30" x2="94.40" y2="380.30" stroke="#465a6c" stroke-width="0.8" stroke-linecap="butt"/>
<line x1="101.80" y1="384.30" x2="101.80" y2="385.10" stroke="#c4122f" stroke-width="0.8" stroke-linecap="butt"/>
<line x1="99.40" y1="384.30" x2="104.20" y2="384.30" stroke="#c4122f" stroke-width="0.8" stroke-linecap="butt"/>
<rect x="91.05" y="379.55" width="2.10" height="2.10" fill="#46586b"/>
<rect x="88.25" y="381.65" width="2.10" height="2.10" fill="#46586b"/>
<rect x="93.95" y="381.65" width="2.10" height="2.10" fill="#46586b"/>
<rect x="91.05" y="383.95" width="2.10" height="2.10" fill="#46586b"/>
<rect x="97.95" y="384.55" width="2.10" height="2.10" fill="#c4122f"/>
<rect x="100.75" y="383.95" width="2.10" height="2.10" fill="#c4122f"/>
<rect x="103.65" y="384.55" width="2.10" height="2.10" fill="#c4122f"/>
<line x1="96.90" y1="387.60" x2="96.90" y2="390.40" stroke="#111" stroke-width="0.9" stroke-linecap="butt"/>
<rect x="119.20" y="379.50" width="8.50" height="8.10" fill="#9fa8b0"/>
<rect x="129.00" y="381.40" width="8.50" height="6.20" fill="#ee7d8d"/>
<line x1="123.45" y1="377.60" x2="123.45" y2="379.50" stroke="#465a6c" stroke-width="0.8" stroke-linecap="butt"/>
<line x1="121.05" y1="377.60" x2="125.85" y2="377.60" stroke="#465a6c" stroke-width="0.8" stroke-linecap="butt"/>
<line x1="133.25" y1="379.90" x2="133.25" y2="381.40" stroke="#c4122f" stroke-width="0.8" stroke-linecap="butt"/>
<line x1="130.85" y1="379.90" x2="135.65" y2="379.90" stroke="#c4122f" stroke-width="0.8" stroke-linecap="butt"/>
<rect x="119.55" y="377.15" width="2.10" height="2.10" fill="#46586b"/>
<rect x="122.45" y="379.05" width="2.10" height="2.10" fill="#46586b"/>
<rect x="125.45" y="378.45" width="2.10" height="2.10" fill="#46586b"/>
<rect x="122.45" y="381.25" width="2.10" height="2.10" fill="#46586b"/>
<rect x="129.35" y="380.35" width="2.10" height="2.10" fill="#c4122f"/>
<rect x="132.15" y="379.05" width="2.10" height="2.10" fill="#c4122f"/>
<rect x="135.55" y="380.35" width="2.10" height="2.10" fill="#c4122f"/>
<rect x="132.35" y="381.45" width="2.10" height="2.10" fill="#c4122f"/>
<line x1="128.35" y1="387.60" x2="128.35" y2="390.40" stroke="#111" stroke-width="0.9" stroke-linecap="butt"/>
<line x1="51.20" y1="341.00" x2="51.20" y2="388.20" stroke="#111" stroke-width="1.2" stroke-linecap="butt"/>
<line x1="50.60" y1="387.60" x2="142.60" y2="387.60" stroke="#111" stroke-width="1.2" stroke-linecap="butt"/>
<line x1="48.40" y1="387.60" x2="51.20" y2="387.60" stroke="#111" stroke-width="0.9" stroke-linecap="butt"/>
<text transform="translate(46.00,387.80) scale(1.33,1)" font-size="6.2" text-anchor="end" dominant-baseline="central" font-weight="normal" fill="#111" stroke="#111" stroke-width="0.2">0.0</text>
<line x1="48.40" y1="378.74" x2="51.20" y2="378.74" stroke="#111" stroke-width="0.9" stroke-linecap="butt"/>
<text transform="translate(46.00,378.94) scale(1.33,1)" font-size="6.2" text-anchor="end" dominant-baseline="central" font-weight="normal" fill="#111" stroke="#111" stroke-width="0.2">5.0<tspan font-size="118%">×</tspan>10<tspan font-size="52%" dy="-0.55em" stroke-width="0.1">3</tspan></text>
<line x1="48.40" y1="369.88" x2="51.20" y2="369.88" stroke="#111" stroke-width="0.9" stroke-linecap="butt"/>
<text transform="translate(46.00,370.08) scale(1.33,1)" font-size="6.2" text-anchor="end" dominant-baseline="central" font-weight="normal" fill="#111" stroke="#111" stroke-width="0.2">1.0<tspan font-size="118%">×</tspan>10<tspan font-size="52%" dy="-0.55em" stroke-width="0.1">4</tspan></text>
<line x1="48.40" y1="361.02" x2="51.20" y2="361.02" stroke="#111" stroke-width="0.9" stroke-linecap="butt"/>
<text transform="translate(46.00,361.22) scale(1.33,1)" font-size="6.2" text-anchor="end" dominant-baseline="central" font-weight="normal" fill="#111" stroke="#111" stroke-width="0.2">1.5<tspan font-size="118%">×</tspan>10<tspan font-size="52%" dy="-0.55em" stroke-width="0.1">4</tspan></text>
<line x1="48.40" y1="352.16" x2="51.20" y2="352.16" stroke="#111" stroke-width="0.9" stroke-linecap="butt"/>
<text transform="translate(46.00,352.36) scale(1.33,1)" font-size="6.2" text-anchor="end" dominant-baseline="central" font-weight="normal" fill="#111" stroke="#111" stroke-width="0.2">2.0<tspan font-size="118%">×</tspan>10<tspan font-size="52%" dy="-0.55em" stroke-width="0.1">4</tspan></text>
<line x1="48.40" y1="343.30" x2="51.20" y2="343.30" stroke="#111" stroke-width="0.9" stroke-linecap="butt"/>
<text transform="translate(46.00,343.50) scale(1.33,1)" font-size="6.2" text-anchor="end" dominant-baseline="central" font-weight="normal" fill="#111" stroke="#111" stroke-width="0.2">2.5<tspan font-size="118%">×</tspan>10<tspan font-size="52%" dy="-0.55em" stroke-width="0.1">4</tspan></text>
<text transform="translate(94.40,331.50)" font-size="8.8" text-anchor="middle" dominant-baseline="central" font-weight="normal" fill="#111" stroke="#111" stroke-width="0.32">Resting</text>
<text transform="translate(65.60,396.60)" font-size="7.4" text-anchor="middle" dominant-baseline="central" font-weight="normal" fill="#111" stroke="#111" stroke-width="0.32">GPVI</text>
<text transform="translate(96.70,396.60)" font-size="7.4" text-anchor="middle" dominant-baseline="central" font-weight="normal" fill="#111" stroke="#111" stroke-width="0.32">JON/A</text>
<text transform="translate(128.00,396.60)" font-size="7.4" text-anchor="middle" dominant-baseline="central" font-weight="normal" fill="#111" stroke="#111" stroke-width="0.32">P-Selectin</text>
<text transform="translate(11.10,364.20) rotate(-90) scale(0.76,1)" font-size="7.8" text-anchor="middle" dominant-baseline="central" font-weight="normal" fill="#111" stroke="#111" stroke-width="0.4">MFI</text>
<rect x="56.50" y="445.80" width="8.50" height="23.70" fill="#9fa8b0"/>
<rect x="66.20" y="444.90" width="8.50" height="24.60" fill="#ee7d8d"/>
<line x1="60.75" y1="434.80" x2="60.75" y2="445.80" stroke="#465a6c" stroke-width="0.8" stroke-linecap="butt"/>
<line x1="58.35" y1="434.80" x2="63.15" y2="434.80" stroke="#465a6c" stroke-width="0.8" stroke-linecap="butt"/>
<line x1="70.45" y1="438.50" x2="70.45" y2="444.90" stroke="#c4122f" stroke-width="0.8" stroke-linecap="butt"/>
<line x1="68.05" y1="438.50" x2="72.85" y2="438.50" stroke="#c4122f" stroke-width="0.8" stroke-linecap="butt"/>
<rect x="59.65" y="433.95" width="2.10" height="2.10" fill="#46586b"/>
<rect x="59.65" y="438.35" width="2.10" height="2.10" fill="#46586b"/>
<rect x="59.65" y="442.95" width="2.10" height="2.10" fill="#46586b"/>
<rect x="59.65" y="446.25" width="2.10" height="2.10" fill="#46586b"/>
<rect x="59.65" y="458.65" width="2.10" height="2.10" fill="#46586b"/>
<rect x="66.15" y="438.85" width="2.10" height="2.10" fill="#c4122f"/>
<rect x="72.55" y="437.45" width="2.10" height="2.10" fill="#c4122f"/>
<rect x="69.35" y="444.75" width="2.10" height="2.10" fill="#c4122f"/>
<rect x="69.35" y="451.85" width="2.10" height="2.10" fill="#c4122f"/>
<line x1="65.60" y1="469.50" x2="65.60" y2="472.30" stroke="#111" stroke-width="0.9" stroke-linecap="butt"/>
<rect x="87.80" y="465.30" width="8.40" height="4.20" fill="#9fa8b0"/>
<rect x="97.60" y="465.20" width="8.40" height="4.30" fill="#ee7d8d"/>
<line x1="92.00" y1="464.00" x2="92.00" y2="465.30" stroke="#465a6c" stroke-width="0.8" stroke-linecap="butt"/>
<line x1="89.60" y1="464.00" x2="94.40" y2="464.00" stroke="#465a6c" stroke-width="0.8" stroke-linecap="butt"/>
<line x1="101.80" y1="464.00" x2="101.80" y2="465.20" stroke="#c4122f" stroke-width="0.8" stroke-linecap="butt"/>
<line x1="99.40" y1="464.00" x2="104.20" y2="464.00" stroke="#c4122f" stroke-width="0.8" stroke-linecap="butt"/>
<rect x="88.25" y="464.15" width="2.10" height="2.10" fill="#46586b"/>
<rect x="91.05" y="463.75" width="2.10" height="2.10" fill="#46586b"/>
<rect x="93.95" y="464.15" width="2.10" height="2.10" fill="#46586b"/>
<rect x="91.05" y="465.45" width="2.10" height="2.10" fill="#46586b"/>
<rect x="97.95" y="464.75" width="2.10" height="2.10" fill="#c4122f"/>
<rect x="100.85" y="463.75" width="2.10" height="2.10" fill="#c4122f"/>
<rect x="103.75" y="464.15" width="2.10" height="2.10" fill="#c4122f"/>
<rect x="100.85" y="465.15" width="2.10" height="2.10" fill="#c4122f"/>
<line x1="96.90" y1="469.50" x2="96.90" y2="472.30" stroke="#111" stroke-width="0.9" stroke-linecap="butt"/>
<rect x="119.20" y="459.70" width="8.50" height="9.80" fill="#9fa8b0"/>
<rect x="129.00" y="460.60" width="8.50" height="8.90" fill="#ee7d8d"/>
<line x1="123.45" y1="457.50" x2="123.45" y2="459.70" stroke="#465a6c" stroke-width="0.8" stroke-linecap="butt"/>
<line x1="121.05" y1="457.50" x2="125.85" y2="457.50" stroke="#465a6c" stroke-width="0.8" stroke-linecap="butt"/>
<line x1="133.25" y1="459.00" x2="133.25" y2="460.60" stroke="#c4122f" stroke-width="0.8" stroke-linecap="butt"/>
<line x1="130.85" y1="459.00" x2="135.65" y2="459.00" stroke="#c4122f" stroke-width="0.8" stroke-linecap="butt"/>
<rect x="119.55" y="457.35" width="2.10" height="2.10" fill="#46586b"/>
<rect x="125.45" y="457.75" width="2.10" height="2.10" fill="#46586b"/>
<rect x="122.45" y="459.15" width="2.10" height="2.10" fill="#46586b"/>
<rect x="119.55" y="460.55" width="2.10" height="2.10" fill="#46586b"/>
<rect x="125.45" y="462.35" width="2.10" height="2.10" fill="#46586b"/>
<rect x="129.35" y="459.95" width="2.10" height="2.10" fill="#c4122f"/>
<rect x="132.35" y="458.65" width="2.10" height="2.10" fill="#c4122f"/>
<rect x="135.55" y="458.25" width="2.10" height="2.10" fill="#c4122f"/>
<rect x="132.35" y="460.55" width="2.10" height="2.10" fill="#c4122f"/>
<line x1="128.35" y1="469.50" x2="128.35" y2="472.30" stroke="#111" stroke-width="0.9" stroke-linecap="butt"/>
<line x1="51.20" y1="423.10" x2="51.20" y2="470.10" stroke="#111" stroke-width="1.2" stroke-linecap="butt"/>
<line x1="50.60" y1="469.50" x2="143.30" y2="469.50" stroke="#111" stroke-width="1.2" stroke-linecap="butt"/>
<line x1="48.40" y1="469.50" x2="51.20" y2="469.50" stroke="#111" stroke-width="0.9" stroke-linecap="butt"/>
<text transform="translate(46.00,469.70) scale(1.33,1)" font-size="6.2" text-anchor="end" dominant-baseline="central" font-weight="normal" fill="#111" stroke="#111" stroke-width="0.2">0.0</text>
<line x1="48.40" y1="460.68" x2="51.20" y2="460.68" stroke="#111" stroke-width="0.9" stroke-linecap="butt"/>
<text transform="translate(46.00,460.88) scale(1.33,1)" font-size="6.2" text-anchor="end" dominant-baseline="central" font-weight="normal" fill="#111" stroke="#111" stroke-width="0.2">5.0<tspan font-size="118%">×</tspan>10<tspan font-size="52%" dy="-0.55em" stroke-width="0.1">3</tspan></text>
<line x1="48.40" y1="451.86" x2="51.20" y2="451.86" stroke="#111" stroke-width="0.9" stroke-linecap="butt"/>
<text transform="translate(46.00,452.06) scale(1.33,1)" font-size="6.2" text-anchor="end" dominant-baseline="central" font-weight="normal" fill="#111" stroke="#111" stroke-width="0.2">1.0<tspan font-size="118%">×</tspan>10<tspan font-size="52%" dy="-0.55em" stroke-width="0.1">4</tspan></text>
<line x1="48.40" y1="443.04" x2="51.20" y2="443.04" stroke="#111" stroke-width="0.9" stroke-linecap="butt"/>
<text transform="translate(46.00,443.24) scale(1.33,1)" font-size="6.2" text-anchor="end" dominant-baseline="central" font-weight="normal" fill="#111" stroke="#111" stroke-width="0.2">1.5<tspan font-size="118%">×</tspan>10<tspan font-size="52%" dy="-0.55em" stroke-width="0.1">4</tspan></text>
<line x1="48.40" y1="434.22" x2="51.20" y2="434.22" stroke="#111" stroke-width="0.9" stroke-linecap="butt"/>
<text transform="translate(46.00,434.42) scale(1.33,1)" font-size="6.2" text-anchor="end" dominant-baseline="central" font-weight="normal" fill="#111" stroke="#111" stroke-width="0.2">2.0<tspan font-size="118%">×</tspan>10<tspan font-size="52%" dy="-0.55em" stroke-width="0.1">4</tspan></text>
<line x1="48.40" y1="425.40" x2="51.20" y2="425.40" stroke="#111" stroke-width="0.9" stroke-linecap="butt"/>
<text transform="translate(46.00,425.60) scale(1.33,1)" font-size="6.2" text-anchor="end" dominant-baseline="central" font-weight="normal" fill="#111" stroke="#111" stroke-width="0.2">2.5<tspan font-size="118%">×</tspan>10<tspan font-size="52%" dy="-0.55em" stroke-width="0.1">4</tspan></text>
<text transform="translate(97.30,415.20)" font-size="8.8" text-anchor="middle" dominant-baseline="central" font-weight="normal" fill="#111" stroke="#111" stroke-width="0.32">Thrombin 0.1 U/mL</text>
<text transform="translate(65.60,478.20)" font-size="7.4" text-anchor="middle" dominant-baseline="central" font-weight="normal" fill="#111" stroke="#111" stroke-width="0.32">GPVI</text>
<text transform="translate(96.40,478.20)" font-size="7.4" text-anchor="middle" dominant-baseline="central" font-weight="normal" fill="#111" stroke="#111" stroke-width="0.32">JON/A</text>
<text transform="translate(127.80,478.20)" font-size="7.4" text-anchor="middle" dominant-baseline="central" font-weight="normal" fill="#111" stroke="#111" stroke-width="0.32">P-Selectin</text>
<text transform="translate(10.90,446.40) rotate(-90) scale(0.76,1)" font-size="7.8" text-anchor="middle" dominant-baseline="central" font-weight="normal" fill="#111" stroke="#111" stroke-width="0.4">MFI</text>
<rect x="57.00" y="526.80" width="9.60" height="30.40" fill="#9fa8b0"/>
<rect x="67.90" y="526.80" width="9.60" height="30.40" fill="#ee7d8d"/>
<line x1="61.80" y1="512.80" x2="61.80" y2="526.80" stroke="#465a6c" stroke-width="0.8" stroke-linecap="butt"/>
<line x1="59.40" y1="512.80" x2="64.20" y2="512.80" stroke="#465a6c" stroke-width="0.8" stroke-linecap="butt"/>
<line x1="72.70" y1="517.90" x2="72.70" y2="526.80" stroke="#c4122f" stroke-width="0.8" stroke-linecap="butt"/>
<line x1="70.30" y1="517.90" x2="75.10" y2="517.90" stroke="#c4122f" stroke-width="0.8" stroke-linecap="butt"/>
<rect x="57.55" y="512.85" width="2.10" height="2.10" fill="#46586b"/>
<rect x="64.35" y="512.85" width="2.10" height="2.10" fill="#46586b"/>
<rect x="60.55" y="518.75" width="2.10" height="2.10" fill="#46586b"/>
<rect x="60.55" y="534.45" width="2.10" height="2.10" fill="#46586b"/>
<rect x="60.55" y="544.95" width="2.10" height="2.10" fill="#46586b"/>
<rect x="71.65" y="514.15" width="2.10" height="2.10" fill="#c4122f"/>
<rect x="71.65" y="520.55" width="2.10" height="2.10" fill="#c4122f"/>
<rect x="68.15" y="533.15" width="2.10" height="2.10" fill="#c4122f"/>
<rect x="75.55" y="532.55" width="2.10" height="2.10" fill="#c4122f"/>
<line x1="67.25" y1="557.20" x2="67.25" y2="560.00" stroke="#111" stroke-width="0.9" stroke-linecap="butt"/>
<rect x="89.20" y="550.20" width="9.80" height="7.00" fill="#9fa8b0"/>
<rect x="99.90" y="551.20" width="9.80" height="6.00" fill="#ee7d8d"/>
<line x1="94.10" y1="548.60" x2="94.10" y2="550.20" stroke="#465a6c" stroke-width="0.8" stroke-linecap="butt"/>
<line x1="91.70" y1="548.60" x2="96.50" y2="548.60" stroke="#465a6c" stroke-width="0.8" stroke-linecap="butt"/>
<line x1="104.80" y1="549.80" x2="104.80" y2="551.20" stroke="#c4122f" stroke-width="0.8" stroke-linecap="butt"/>
<line x1="102.40" y1="549.80" x2="107.20" y2="549.80" stroke="#c4122f" stroke-width="0.8" stroke-linecap="butt"/>
<rect x="89.35" y="550.15" width="2.10" height="2.10" fill="#46586b"/>
<rect x="92.55" y="552.15" width="2.10" height="2.10" fill="#46586b"/>
<rect x="96.35" y="550.15" width="2.10" height="2.10" fill="#46586b"/>
<rect x="93.15" y="553.55" width="2.10" height="2.10" fill="#46586b"/>
<rect x="100.35" y="551.05" width="2.10" height="2.10" fill="#c4122f"/>
<rect x="104.15" y="552.35" width="2.10" height="2.10" fill="#c4122f"/>
<rect x="107.55" y="552.35" width="2.10" height="2.10" fill="#c4122f"/>
<line x1="99.45" y1="557.20" x2="99.45" y2="560.00" stroke="#111" stroke-width="0.9" stroke-linecap="butt"/>
<rect x="122.10" y="544.70" width="9.80" height="12.50" fill="#9fa8b0"/>
<rect x="133.30" y="543.80" width="9.80" height="13.40" fill="#ee7d8d"/>
<line x1="127.00" y1="542.50" x2="127.00" y2="544.70" stroke="#465a6c" stroke-width="0.8" stroke-linecap="butt"/>
<line x1="124.60" y1="542.50" x2="129.40" y2="542.50" stroke="#465a6c" stroke-width="0.8" stroke-linecap="butt"/>
<line x1="138.20" y1="542.80" x2="138.20" y2="543.80" stroke="#c4122f" stroke-width="0.8" stroke-linecap="butt"/>
<line x1="135.80" y1="542.80" x2="140.60" y2="542.80" stroke="#c4122f" stroke-width="0.8" stroke-linecap="butt"/>
<rect x="122.55" y="542.35" width="2.10" height="2.10" fill="#46586b"/>
<rect x="129.55" y="542.35" width="2.10" height="2.10" fill="#46586b"/>
<rect x="125.95" y="545.45" width="2.10" height="2.10" fill="#46586b"/>
<rect x="129.15" y="547.35" width="2.10" height="2.10" fill="#46586b"/>
<rect x="122.55" y="548.85" width="2.10" height="2.10" fill="#46586b"/>
<rect x="133.95" y="543.65" width="2.10" height="2.10" fill="#c4122f"/>
<rect x="140.95" y="542.75" width="2.10" height="2.10" fill="#c4122f"/>
<rect x="137.55" y="544.95" width="2.10" height="2.10" fill="#c4122f"/>
<rect x="134.35" y="546.45" width="2.10" height="2.10" fill="#c4122f"/>
<line x1="132.60" y1="557.20" x2="132.60" y2="560.00" stroke="#111" stroke-width="0.9" stroke-linecap="butt"/>
<line x1="50.60" y1="505.10" x2="50.60" y2="557.80" stroke="#111" stroke-width="1.2" stroke-linecap="butt"/>
<line x1="50.00" y1="557.20" x2="148.80" y2="557.20" stroke="#111" stroke-width="1.2" stroke-linecap="butt"/>
<line x1="47.80" y1="557.20" x2="50.60" y2="557.20" stroke="#111" stroke-width="0.9" stroke-linecap="butt"/>
<text transform="translate(45.40,557.40) scale(1.33,1)" font-size="6.2" text-anchor="end" dominant-baseline="central" font-weight="normal" fill="#111" stroke="#111" stroke-width="0.2">0.0</text>
<line x1="47.80" y1="544.75" x2="50.60" y2="544.75" stroke="#111" stroke-width="0.9" stroke-linecap="butt"/>
<text transform="translate(45.40,544.95) scale(1.33,1)" font-size="6.2" text-anchor="end" dominant-baseline="central" font-weight="normal" fill="#111" stroke="#111" stroke-width="0.2">5.0<tspan font-size="118%">×</tspan>10<tspan font-size="52%" dy="-0.55em" stroke-width="0.1">3</tspan></text>
<line x1="47.80" y1="532.30" x2="50.60" y2="532.30" stroke="#111" stroke-width="0.9" stroke-linecap="butt"/>
<text transform="translate(45.40,532.50) scale(1.33,1)" font-size="6.2" text-anchor="end" dominant-baseline="central" font-weight="normal" fill="#111" stroke="#111" stroke-width="0.2">1.0<tspan font-size="118%">×</tspan>10<tspan font-size="52%" dy="-0.55em" stroke-width="0.1">4</tspan></text>
<line x1="47.80" y1="519.85" x2="50.60" y2="519.85" stroke="#111" stroke-width="0.9" stroke-linecap="butt"/>
<text transform="translate(45.40,520.05) scale(1.33,1)" font-size="6.2" text-anchor="end" dominant-baseline="central" font-weight="normal" fill="#111" stroke="#111" stroke-width="0.2">1.5<tspan font-size="118%">×</tspan>10<tspan font-size="52%" dy="-0.55em" stroke-width="0.1">4</tspan></text>
<line x1="47.80" y1="507.40" x2="50.60" y2="507.40" stroke="#111" stroke-width="0.9" stroke-linecap="butt"/>
<text transform="translate(45.40,507.60) scale(1.33,1)" font-size="6.2" text-anchor="end" dominant-baseline="central" font-weight="normal" fill="#111" stroke="#111" stroke-width="0.2">2.0<tspan font-size="118%">×</tspan>10<tspan font-size="52%" dy="-0.55em" stroke-width="0.1">4</tspan></text>
<text transform="translate(100.00,497.00)" font-size="8.8" text-anchor="middle" dominant-baseline="central" font-weight="normal" fill="#111" stroke="#111" stroke-width="0.32">Thrombin 0.5 U/mL</text>
<text transform="translate(66.20,567.00)" font-size="7.4" text-anchor="middle" dominant-baseline="central" font-weight="normal" fill="#111" stroke="#111" stroke-width="0.32">GPVI</text>
<text transform="translate(98.20,567.00)" font-size="7.4" text-anchor="middle" dominant-baseline="central" font-weight="normal" fill="#111" stroke="#111" stroke-width="0.32">JON/A</text>
<text transform="translate(132.80,567.00)" font-size="7.4" text-anchor="middle" dominant-baseline="central" font-weight="normal" fill="#111" stroke="#111" stroke-width="0.32">P-Selectin</text>
<text transform="translate(10.90,532.00) rotate(-90) scale(0.76,1)" font-size="7.8" text-anchor="middle" dominant-baseline="central" font-weight="normal" fill="#111" stroke="#111" stroke-width="0.4">MFI</text>
<rect x="202.40" y="441.80" width="8.50" height="27.70" fill="#9fa8b0"/>
<rect x="212.00" y="444.00" width="8.50" height="25.50" fill="#ee7d8d"/>
<line x1="206.65" y1="435.10" x2="206.65" y2="441.80" stroke="#465a6c" stroke-width="0.8" stroke-linecap="butt"/>
<line x1="204.25" y1="435.10" x2="209.05" y2="435.10" stroke="#465a6c" stroke-width="0.8" stroke-linecap="butt"/>
<line x1="216.25" y1="437.90" x2="216.25" y2="444.00" stroke="#c4122f" stroke-width="0.8" stroke-linecap="butt"/>
<line x1="213.85" y1="437.90" x2="218.65" y2="437.90" stroke="#c4122f" stroke-width="0.8" stroke-linecap="butt"/>
<rect x="205.45" y="433.35" width="2.10" height="2.10" fill="#46586b"/>
<rect x="205.45" y="437.05" width="2.10" height="2.10" fill="#46586b"/>
<rect x="205.45" y="441.45" width="2.10" height="2.10" fill="#46586b"/>
<rect x="205.45" y="443.85" width="2.10" height="2.10" fill="#46586b"/>
<rect x="205.45" y="448.45" width="2.10" height="2.10" fill="#46586b"/>
<rect x="215.15" y="438.35" width="2.10" height="2.10" fill="#c4122f"/>
<rect x="215.15" y="442.55" width="2.10" height="2.10" fill="#c4122f"/>
<rect x="215.15" y="450.35" width="2.10" height="2.10" fill="#c4122f"/>
<line x1="211.45" y1="469.50" x2="211.45" y2="472.30" stroke="#111" stroke-width="0.9" stroke-linecap="butt"/>
<rect x="233.80" y="460.20" width="8.40" height="9.30" fill="#9fa8b0"/>
<rect x="243.40" y="459.70" width="8.40" height="9.80" fill="#ee7d8d"/>
<line x1="238.00" y1="457.80" x2="238.00" y2="460.20" stroke="#465a6c" stroke-width="0.8" stroke-linecap="butt"/>
<line x1="235.60" y1="457.80" x2="240.40" y2="457.80" stroke="#465a6c" stroke-width="0.8" stroke-linecap="butt"/>
<line x1="247.60" y1="458.80" x2="247.60" y2="459.70" stroke="#c4122f" stroke-width="0.8" stroke-linecap="butt"/>
<line x1="245.20" y1="458.80" x2="250.00" y2="458.80" stroke="#c4122f" stroke-width="0.8" stroke-linecap="butt"/>
<rect x="236.75" y="455.35" width="2.10" height="2.10" fill="#46586b"/>
<rect x="234.55" y="459.95" width="2.10" height="2.10" fill="#46586b"/>
<rect x="239.75" y="461.05" width="2.10" height="2.10" fill="#46586b"/>
<rect x="236.75" y="463.25" width="2.10" height="2.10" fill="#46586b"/>
<rect x="243.85" y="457.75" width="2.10" height="2.10" fill="#c4122f"/>
<rect x="249.35" y="458.05" width="2.10" height="2.10" fill="#c4122f"/>
<rect x="246.55" y="459.95" width="2.10" height="2.10" fill="#c4122f"/>
<rect x="246.55" y="461.85" width="2.10" height="2.10" fill="#c4122f"/>
<line x1="242.80" y1="469.50" x2="242.80" y2="472.30" stroke="#111" stroke-width="0.9" stroke-linecap="butt"/>
<rect x="265.10" y="443.10" width="8.60" height="26.40" fill="#9fa8b0"/>
<rect x="274.80" y="442.20" width="8.60" height="27.30" fill="#ee7d8d"/>
<line x1="269.40" y1="436.20" x2="269.40" y2="443.10" stroke="#465a6c" stroke-width="0.8" stroke-linecap="butt"/>
<line x1="267.00" y1="436.20" x2="271.80" y2="436.20" stroke="#465a6c" stroke-width="0.8" stroke-linecap="butt"/>
<line x1="279.10" y1="439.00" x2="279.10" y2="442.20" stroke="#c4122f" stroke-width="0.8" stroke-linecap="butt"/>
<line x1="276.70" y1="439.00" x2="281.50" y2="439.00" stroke="#c4122f" stroke-width="0.8" stroke-linecap="butt"/>
<rect x="265.05" y="434.65" width="2.10" height="2.10" fill="#46586b"/>
<rect x="271.45" y="435.15" width="2.10" height="2.10" fill="#46586b"/>
<rect x="268.35" y="442.55" width="2.10" height="2.10" fill="#46586b"/>
<rect x="268.35" y="449.95" width="2.10" height="2.10" fill="#46586b"/>
<rect x="275.15" y="438.35" width="2.10" height="2.10" fill="#c4122f"/>
<rect x="281.65" y="437.95" width="2.10" height="2.10" fill="#c4122f"/>
<rect x="282.15" y="440.75" width="2.10" height="2.10" fill="#c4122f"/>
<rect x="278.35" y="445.35" width="2.10" height="2.10" fill="#c4122f"/>
<line x1="274.25" y1="469.50" x2="274.25" y2="472.30" stroke="#111" stroke-width="0.9" stroke-linecap="butt"/>
<line x1="197.20" y1="423.60" x2="197.20" y2="470.10" stroke="#111" stroke-width="1.2" stroke-linecap="butt"/>
<line x1="196.60" y1="469.50" x2="287.50" y2="469.50" stroke="#111" stroke-width="1.2" stroke-linecap="butt"/>
<line x1="194.40" y1="469.50" x2="197.20" y2="469.50" stroke="#111" stroke-width="0.9" stroke-linecap="butt"/>
<text transform="translate(192.00,469.70) scale(1.33,1)" font-size="6.2" text-anchor="end" dominant-baseline="central" font-weight="normal" fill="#111" stroke="#111" stroke-width="0.2">0.0</text>
<line x1="194.40" y1="454.97" x2="197.20" y2="454.97" stroke="#111" stroke-width="0.9" stroke-linecap="butt"/>
<text transform="translate(192.00,455.17) scale(1.33,1)" font-size="6.2" text-anchor="end" dominant-baseline="central" font-weight="normal" fill="#111" stroke="#111" stroke-width="0.2">5.0<tspan font-size="118%">×</tspan>10<tspan font-size="52%" dy="-0.55em" stroke-width="0.1">3</tspan></text>
<line x1="194.40" y1="440.43" x2="197.20" y2="440.43" stroke="#111" stroke-width="0.9" stroke-linecap="butt"/>
<text transform="translate(192.00,440.63) scale(1.33,1)" font-size="6.2" text-anchor="end" dominant-baseline="central" font-weight="normal" fill="#111" stroke="#111" stroke-width="0.2">1.0<tspan font-size="118%">×</tspan>10<tspan font-size="52%" dy="-0.55em" stroke-width="0.1">4</tspan></text>
<line x1="194.40" y1="425.90" x2="197.20" y2="425.90" stroke="#111" stroke-width="0.9" stroke-linecap="butt"/>
<text transform="translate(192.00,426.10) scale(1.33,1)" font-size="6.2" text-anchor="end" dominant-baseline="central" font-weight="normal" fill="#111" stroke="#111" stroke-width="0.2">1.5<tspan font-size="118%">×</tspan>10<tspan font-size="52%" dy="-0.55em" stroke-width="0.1">4</tspan></text>
<text transform="translate(243.30,415.80)" font-size="8.8" text-anchor="middle" dominant-baseline="central" font-weight="normal" fill="#111" stroke="#111" stroke-width="0.32">CRP</text>
<text transform="translate(211.70,478.20)" font-size="7.4" text-anchor="middle" dominant-baseline="central" font-weight="normal" fill="#111" stroke="#111" stroke-width="0.32">GPVI</text>
<text transform="translate(243.00,478.20)" font-size="7.4" text-anchor="middle" dominant-baseline="central" font-weight="normal" fill="#111" stroke="#111" stroke-width="0.32">JON/A</text>
<text transform="translate(275.60,478.20)" font-size="7.4" text-anchor="middle" dominant-baseline="central" font-weight="normal" fill="#111" stroke="#111" stroke-width="0.32">P-Selectin</text>
<text transform="translate(157.60,447.80) rotate(-90) scale(0.76,1)" font-size="7.8" text-anchor="middle" dominant-baseline="central" font-weight="normal" fill="#111" stroke="#111" stroke-width="0.4">MFI</text>
<rect x="203.00" y="542.40" width="9.60" height="14.90" fill="#9fa8b0"/>
<rect x="214.00" y="545.00" width="9.60" height="12.30" fill="#ee7d8d"/>
<line x1="207.80" y1="539.40" x2="207.80" y2="542.40" stroke="#465a6c" stroke-width="0.8" stroke-linecap="butt"/>
<line x1="205.40" y1="539.40" x2="210.20" y2="539.40" stroke="#465a6c" stroke-width="0.8" stroke-linecap="butt"/>
<line x1="218.80" y1="540.60" x2="218.80" y2="545.00" stroke="#c4122f" stroke-width="0.8" stroke-linecap="butt"/>
<line x1="216.40" y1="540.60" x2="221.20" y2="540.60" stroke="#c4122f" stroke-width="0.8" stroke-linecap="butt"/>
<rect x="206.35" y="536.95" width="2.10" height="2.10" fill="#46586b"/>
<rect x="203.15" y="540.55" width="2.10" height="2.10" fill="#46586b"/>
<rect x="206.35" y="541.15" width="2.10" height="2.10" fill="#46586b"/>
<rect x="209.95" y="541.15" width="2.10" height="2.10" fill="#46586b"/>
<rect x="203.15" y="544.95" width="2.10" height="2.10" fill="#46586b"/>
<rect x="214.15" y="542.95" width="2.10" height="2.10" fill="#c4122f"/>
<rect x="221.75" y="544.55" width="2.10" height="2.10" fill="#c4122f"/>
<rect x="217.95" y="552.55" width="2.10" height="2.10" fill="#c4122f"/>
<line x1="213.30" y1="557.30" x2="213.30" y2="560.10" stroke="#111" stroke-width="0.9" stroke-linecap="butt"/>
<rect x="235.60" y="542.40" width="9.60" height="14.90" fill="#9fa8b0"/>
<rect x="246.60" y="543.00" width="9.60" height="14.30" fill="#ee7d8d"/>
<line x1="240.40" y1="540.30" x2="240.40" y2="542.40" stroke="#465a6c" stroke-width="0.8" stroke-linecap="butt"/>
<line x1="238.00" y1="540.30" x2="242.80" y2="540.30" stroke="#465a6c" stroke-width="0.8" stroke-linecap="butt"/>
<line x1="251.40" y1="542.60" x2="251.40" y2="543.00" stroke="#c4122f" stroke-width="0.8" stroke-linecap="butt"/>
<line x1="249.00" y1="542.60" x2="253.80" y2="542.60" stroke="#c4122f" stroke-width="0.8" stroke-linecap="butt"/>
<rect x="235.95" y="538.95" width="2.10" height="2.10" fill="#46586b"/>
<rect x="239.95" y="539.55" width="2.10" height="2.10" fill="#46586b"/>
<rect x="243.15" y="538.95" width="2.10" height="2.10" fill="#46586b"/>
<rect x="235.95" y="542.95" width="2.10" height="2.10" fill="#46586b"/>
<rect x="240.35" y="541.15" width="2.10" height="2.10" fill="#46586b"/>
<rect x="247.15" y="541.95" width="2.10" height="2.10" fill="#c4122f"/>
<rect x="253.75" y="541.95" width="2.10" height="2.10" fill="#c4122f"/>
<rect x="250.55" y="543.95" width="2.10" height="2.10" fill="#c4122f"/>
<rect x="250.55" y="548.35" width="2.10" height="2.10" fill="#c4122f"/>
<line x1="245.90" y1="557.30" x2="245.90" y2="560.10" stroke="#111" stroke-width="0.9" stroke-linecap="butt"/>
<rect x="268.00" y="539.00" width="9.60" height="18.30" fill="#9fa8b0"/>
<rect x="280.00" y="537.00" width="9.60" height="20.30" fill="#ee7d8d"/>
<line x1="272.80" y1="535.00" x2="272.80" y2="539.00" stroke="#465a6c" stroke-width="0.8" stroke-linecap="butt"/>
<line x1="270.40" y1="535.00" x2="275.20" y2="535.00" stroke="#465a6c" stroke-width="0.8" stroke-linecap="butt"/>
<line x1="284.80" y1="523.40" x2="284.80" y2="537.00" stroke="#c4122f" stroke-width="0.8" stroke-linecap="butt"/>
<line x1="282.40" y1="523.40" x2="287.20" y2="523.40" stroke="#c4122f" stroke-width="0.8" stroke-linecap="butt"/>
<rect x="268.55" y="534.55" width="2.10" height="2.10" fill="#46586b"/>
<rect x="271.95" y="533.55" width="2.10" height="2.10" fill="#46586b"/>
<rect x="275.35" y="534.95" width="2.10" height="2.10" fill="#46586b"/>
<rect x="271.95" y="537.95" width="2.10" height="2.10" fill="#46586b"/>
<rect x="271.95" y="544.95" width="2.10" height="2.10" fill="#46586b"/>
<rect x="283.55" y="516.55" width="2.10" height="2.10" fill="#c4122f"/>
<rect x="283.55" y="535.95" width="2.10" height="2.10" fill="#c4122f"/>
<rect x="283.55" y="542.35" width="2.10" height="2.10" fill="#c4122f"/>
<rect x="283.55" y="546.95" width="2.10" height="2.10" fill="#c4122f"/>
<line x1="278.80" y1="557.30" x2="278.80" y2="560.10" stroke="#111" stroke-width="0.9" stroke-linecap="butt"/>
<line x1="197.30" y1="505.30" x2="197.30" y2="557.90" stroke="#111" stroke-width="1.2" stroke-linecap="butt"/>
<line x1="196.70" y1="557.30" x2="295.00" y2="557.30" stroke="#111" stroke-width="1.2" stroke-linecap="butt"/>
<line x1="194.50" y1="557.30" x2="197.30" y2="557.30" stroke="#111" stroke-width="0.9" stroke-linecap="butt"/>
<text transform="translate(192.10,557.50) scale(1.33,1)" font-size="6.2" text-anchor="end" dominant-baseline="central" font-weight="normal" fill="#111" stroke="#111" stroke-width="0.2">0</text>
<line x1="194.50" y1="544.88" x2="197.30" y2="544.88" stroke="#111" stroke-width="0.9" stroke-linecap="butt"/>
<text transform="translate(192.10,545.08) scale(1.33,1)" font-size="6.2" text-anchor="end" dominant-baseline="central" font-weight="normal" fill="#111" stroke="#111" stroke-width="0.2">1<tspan font-size="118%">×</tspan>10<tspan font-size="52%" dy="-0.55em" stroke-width="0.1">3</tspan></text>
<line x1="194.50" y1="532.45" x2="197.30" y2="532.45" stroke="#111" stroke-width="0.9" stroke-linecap="butt"/>
<text transform="translate(192.10,532.65) scale(1.33,1)" font-size="6.2" text-anchor="end" dominant-baseline="central" font-weight="normal" fill="#111" stroke="#111" stroke-width="0.2">2<tspan font-size="118%">×</tspan>10<tspan font-size="52%" dy="-0.55em" stroke-width="0.1">3</tspan></text>
<line x1="194.50" y1="520.02" x2="197.30" y2="520.02" stroke="#111" stroke-width="0.9" stroke-linecap="butt"/>
<text transform="translate(192.10,520.23) scale(1.33,1)" font-size="6.2" text-anchor="end" dominant-baseline="central" font-weight="normal" fill="#111" stroke="#111" stroke-width="0.2">3<tspan font-size="118%">×</tspan>10<tspan font-size="52%" dy="-0.55em" stroke-width="0.1">3</tspan></text>
<line x1="194.50" y1="507.60" x2="197.30" y2="507.60" stroke="#111" stroke-width="0.9" stroke-linecap="butt"/>
<text transform="translate(192.10,507.80) scale(1.33,1)" font-size="6.2" text-anchor="end" dominant-baseline="central" font-weight="normal" fill="#111" stroke="#111" stroke-width="0.2">4<tspan font-size="118%">×</tspan>10<tspan font-size="52%" dy="-0.55em" stroke-width="0.1">3</tspan></text>
<text transform="translate(246.50,497.30)" font-size="8.8" text-anchor="middle" dominant-baseline="central" font-weight="normal" fill="#111" stroke="#111" stroke-width="0.32">ADP</text>
<text transform="translate(213.40,567.40)" font-size="7.4" text-anchor="middle" dominant-baseline="central" font-weight="normal" fill="#111" stroke="#111" stroke-width="0.32">GPVI</text>
<text transform="translate(246.00,567.40)" font-size="7.4" text-anchor="middle" dominant-baseline="central" font-weight="normal" fill="#111" stroke="#111" stroke-width="0.32">JON/A</text>
<text transform="translate(279.00,567.40)" font-size="7.4" text-anchor="middle" dominant-baseline="central" font-weight="normal" fill="#111" stroke="#111" stroke-width="0.32">P-Selectin</text>
<text transform="translate(162.90,532.20) rotate(-90) scale(0.76,1)" font-size="7.8" text-anchor="middle" dominant-baseline="central" font-weight="normal" fill="#111" stroke="#111" stroke-width="0.4">MFI</text>
<rect x="158.20" y="357.40" width="3.00" height="3.00" fill="#4a4a4a"/>
<text transform="translate(164.60,359.00)" font-size="6.9" text-anchor="start" dominant-baseline="central" font-weight="normal" fill="#111" stroke="#111" stroke-width="0.32">Control</text>
<rect x="158.20" y="367.70" width="3.00" height="3.00" fill="#c0143c"/>
<text transform="translate(164.60,369.30)" font-size="6.9" text-anchor="start" dominant-baseline="central" font-weight="normal" fill="#111" stroke="#111" stroke-width="0.32">Niraparib</text>
<text transform="translate(7.00,11.90)" font-size="10.4" text-anchor="start" dominant-baseline="central" font-weight="bold" fill="#000" stroke="#000" stroke-width="0.2">A</text>
<text transform="translate(304.50,12.30)" font-size="10.4" text-anchor="start" dominant-baseline="central" font-weight="bold" fill="#000" stroke="#000" stroke-width="0.2">B</text>
<text transform="translate(7.20,179.00)" font-size="10.4" text-anchor="start" dominant-baseline="central" font-weight="bold" fill="#000" stroke="#000" stroke-width="0.2">C</text>
<text transform="translate(7.50,319.40)" font-size="10.4" text-anchor="start" dominant-baseline="central" font-weight="bold" fill="#000" stroke="#000" stroke-width="0.2">D</text>
</svg>
</body></html>
